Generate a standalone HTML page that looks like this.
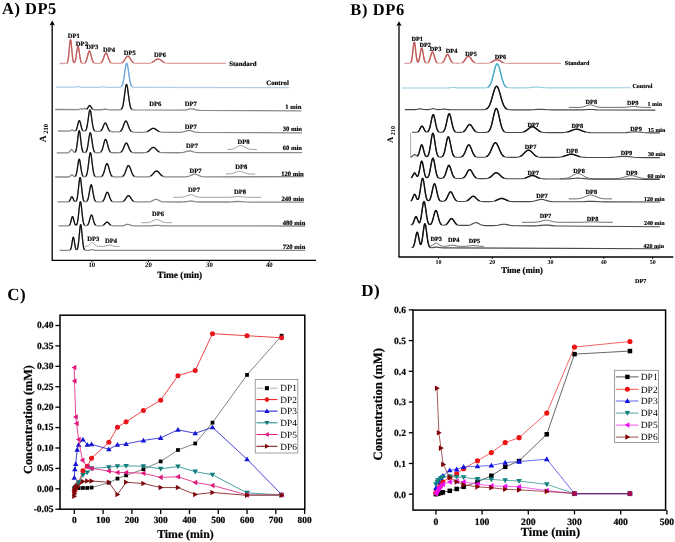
<!DOCTYPE html>
<html><head><meta charset="utf-8"><style>
html,body{margin:0;padding:0;background:#fff;}
svg{display:block;font-family:"Liberation Serif", serif;will-change:transform;filter:blur(0.3px);text-rendering:geometricPrecision;}
</style></head><body>
<svg width="675" height="542" viewBox="0 0 675 542">
<rect width="675" height="542" fill="#fff"/>
<text x="2.00" y="14.40" font-size="16.5" text-anchor="start" font-weight="bold" fill="#000" letter-spacing="0.5">A) DP5</text>
<line x1="52.2" y1="23" x2="52.2" y2="260.3" stroke="#000" stroke-width="1.3"/>
<path d="M49.5,25.4 L52.2,20.6 L54.9,25.4 L52.2,24.4 Z" fill="#000"/>
<line x1="51.6" y1="260.3" x2="316" y2="260.3" stroke="#000" stroke-width="1.3"/>
<text x="91.80" y="267.40" font-size="6.8" text-anchor="middle" font-weight="bold" fill="#000" >10</text>
<line x1="91.8" y1="260" x2="91.8" y2="262.2" stroke="#000" stroke-width="1"/>
<text x="148.50" y="267.40" font-size="6.8" text-anchor="middle" font-weight="bold" fill="#000" >20</text>
<line x1="148.5" y1="260" x2="148.5" y2="262.2" stroke="#000" stroke-width="1"/>
<text x="209.40" y="267.40" font-size="6.8" text-anchor="middle" font-weight="bold" fill="#000" >30</text>
<line x1="209.4" y1="260" x2="209.4" y2="262.2" stroke="#000" stroke-width="1"/>
<text x="269.30" y="267.40" font-size="6.8" text-anchor="middle" font-weight="bold" fill="#000" >40</text>
<line x1="269.3" y1="260" x2="269.3" y2="262.2" stroke="#000" stroke-width="1"/>
<text x="179.80" y="277.50" font-size="9.4" text-anchor="middle" font-weight="bold" fill="#000" stroke="#000" stroke-width="0.2">Time (min)</text>
<text transform="translate(45.9,142.3) rotate(-90)" font-size="9.6" font-weight="bold">A<tspan font-size="6.6" dx="1.6" dy="1.8">210</tspan></text>
<polyline points="59.60,63.50 66.09,63.44 66.59,63.31 66.84,63.16 67.09,62.91 67.34,62.51 67.59,61.91 67.84,61.02 68.34,58.15 68.84,53.65 69.84,42.80 70.09,40.95 70.34,39.89 70.59,39.74 70.84,40.53 71.09,42.16 72.33,55.37 72.83,59.30 73.08,60.64 73.33,61.59 73.58,62.23 73.83,62.60 74.08,62.75 74.33,62.71 74.58,62.49 74.83,62.09 75.33,60.67 75.58,59.61 76.08,56.76 77.33,48.15 77.58,47.04 77.83,46.41 78.08,46.30 78.33,46.74 78.58,47.68 78.83,49.03 80.08,57.74 80.33,59.14 80.82,61.23 81.07,61.93 81.57,62.81 82.07,63.22 82.82,63.41 83.82,63.37 84.57,63.13 85.07,62.78 85.32,62.51 85.82,61.74 86.32,60.58 86.82,59.00 88.07,53.97 88.57,52.24 88.81,51.61 89.06,51.18 89.31,50.98 89.56,51.02 89.81,51.29 90.31,52.47 92.06,59.27 92.81,61.38 93.31,62.28 93.81,62.84 94.56,63.25 95.31,63.40 97.80,63.45 99.55,63.36 100.55,63.09 101.30,62.60 102.05,61.68 102.80,60.20 104.55,55.26 105.05,54.07 105.54,53.29 105.79,53.09 106.04,53.05 106.29,53.15 106.54,53.39 107.04,54.25 107.54,55.50 109.04,59.79 109.54,60.93 110.04,61.80 110.54,62.43 111.29,63.00 112.04,63.27 112.79,63.38 114.78,63.43 119.28,63.39 120.78,63.23 121.78,62.92 122.27,62.65 122.77,62.28 123.52,61.51 124.27,60.47 125.77,57.96 126.52,56.86 127.02,56.35 127.27,56.17 127.77,56.02 128.27,56.14 128.52,56.29 129.02,56.78 129.77,57.86 131.51,60.75 132.26,61.72 132.76,62.21 133.26,62.60 134.01,62.98 134.76,63.20 135.76,63.34 138.01,63.40 146.75,63.38 148.74,63.29 150.24,63.09 151.49,62.72 152.49,62.26 153.49,61.63 156.23,59.60 157.23,59.12 157.98,58.98 158.73,59.06 159.73,59.46 160.48,59.93 162.98,61.80 164.22,62.51 164.97,62.80 165.72,63.02 166.72,63.19 167.72,63.29 171.96,63.36 225.90,63.30" fill="none" stroke="#dba4a4" stroke-width="1.3" stroke-linejoin="round"/>
<polyline points="67.30,62.59 67.55,62.03 67.79,61.21 68.29,58.54 68.78,54.28 69.76,43.50 70.01,41.46 70.25,40.14 70.50,39.69 70.75,40.14 70.99,41.46 71.24,43.50 72.22,54.27 72.71,58.52 73.21,61.15 73.45,61.93 73.70,62.43" fill="none" stroke="#c25a5a" stroke-width="1.20" stroke-linejoin="round" stroke-linecap="round"/>
<polyline points="74.60,62.47 74.84,62.07 75.09,61.48 75.57,59.66 76.06,56.92 77.27,48.46 77.51,47.28 77.76,46.54 78.00,46.28 78.24,46.53 78.49,47.28 78.73,48.46 79.94,56.91 80.43,59.66 80.91,61.51 81.40,62.57" fill="none" stroke="#c25a5a" stroke-width="1.20" stroke-linejoin="round" stroke-linecap="round"/>
<polyline points="85.27,62.57 85.76,61.86 86.00,61.37 86.49,60.10 86.97,58.44 88.19,53.51 88.67,51.95 88.91,51.41 89.16,51.08 89.40,50.96 89.64,51.08 89.89,51.41 90.13,51.95 90.61,53.51 91.83,58.43 92.31,60.09 92.80,61.36 93.04,61.85 93.53,62.56" fill="none" stroke="#c25a5a" stroke-width="1.20" stroke-linejoin="round" stroke-linecap="round"/>
<polyline points="101.35,62.55 102.09,61.62 102.82,60.14 104.53,55.30 105.02,54.11 105.51,53.32 105.76,53.11 106.00,53.04 106.24,53.11 106.49,53.32 106.98,54.11 107.47,55.29 109.18,60.13 109.91,61.61 110.65,62.54" fill="none" stroke="#c25a5a" stroke-width="1.20" stroke-linejoin="round" stroke-linecap="round"/>
<polyline points="122.46,62.52 123.21,61.87 123.95,60.95 126.43,56.97 127.18,56.23 127.68,56.03 128.17,56.09 128.42,56.23 128.92,56.67 129.66,57.69 131.65,60.94 132.39,61.86 133.14,62.51" fill="none" stroke="#c25a5a" stroke-width="1.20" stroke-linejoin="round" stroke-linecap="round"/>
<polyline points="152.04,62.49 153.28,61.78 156.25,59.59 157.23,59.12 157.98,58.98 158.72,59.05 159.71,59.44 160.70,60.09 162.92,61.77 164.16,62.47" fill="none" stroke="#c25a5a" stroke-width="1.20" stroke-linejoin="round" stroke-linecap="round"/>
<text x="73.70" y="38.28" font-size="6.6" text-anchor="middle" font-weight="bold" fill="#000" stroke="#000" stroke-width="0.18">DP1</text>
<text x="81.90" y="45.68" font-size="6.6" text-anchor="middle" font-weight="bold" fill="#000" stroke="#000" stroke-width="0.18">DP2</text>
<text x="92.20" y="49.38" font-size="6.6" text-anchor="middle" font-weight="bold" fill="#000" stroke="#000" stroke-width="0.18">DP3</text>
<text x="109.00" y="51.58" font-size="6.6" text-anchor="middle" font-weight="bold" fill="#000" stroke="#000" stroke-width="0.18">DP4</text>
<text x="129.70" y="54.58" font-size="6.6" text-anchor="middle" font-weight="bold" fill="#000" stroke="#000" stroke-width="0.18">DP5</text>
<text x="160.00" y="57.28" font-size="6.6" text-anchor="middle" font-weight="bold" fill="#000" stroke="#000" stroke-width="0.18">DP6</text>
<text x="229.30" y="66.20" font-size="6.8" text-anchor="start" font-weight="bold" fill="#000" stroke="#000" stroke-width="0.18">Standard</text>
<polyline points="56.00,87.20 73.24,87.22 74.73,87.08 76.73,86.52 77.48,86.45 78.23,86.56 80.23,87.12 82.23,87.25 98.96,87.28 100.21,87.21 102.21,86.86 102.96,86.80 103.71,86.86 105.71,87.21 107.46,87.30 118.70,87.33 119.95,87.26 120.69,87.07 121.19,86.80 121.44,86.58 121.94,85.92 122.44,84.85 122.94,83.23 123.44,80.98 123.94,78.07 125.19,69.30 125.69,66.22 126.19,64.12 126.44,63.55 126.69,63.35 126.94,63.52 127.19,64.06 127.69,66.11 128.19,69.16 129.69,79.49 130.19,82.11 130.69,84.07 131.19,85.42 131.44,85.91 131.93,86.58 132.18,86.80 132.68,87.09 133.43,87.28 134.43,87.35 136.43,87.37 289.30,87.70" fill="none" stroke="#b0cdea" stroke-width="1.3" stroke-linejoin="round"/>
<polyline points="121.57,86.44 122.06,85.71 122.55,84.55 123.28,81.77 124.02,77.60 125.24,68.99 125.72,66.04 126.21,64.05 126.46,63.53 126.70,63.35 126.94,63.53 127.19,64.06 127.68,66.05 128.16,69.00 129.38,77.61 130.12,81.78 130.85,84.57 131.34,85.73 131.83,86.46" fill="none" stroke="#6fa6dc" stroke-width="1.20" stroke-linejoin="round" stroke-linecap="round"/>
<text x="288.80" y="85.34" font-size="6.8" text-anchor="end" font-weight="bold" fill="#000" stroke="#000" stroke-width="0.18">Control</text>
<polyline points="55.20,109.50 78.19,109.62 79.19,109.48 80.43,108.96 80.93,108.85 81.43,108.91 82.18,109.17 82.68,109.23 83.18,109.08 83.93,108.63 84.43,108.46 84.93,108.55 85.93,109.07 86.43,109.10 86.68,109.01 87.18,108.62 87.68,107.98 88.93,106.01 89.43,105.56 89.68,105.50 89.93,105.55 90.43,105.97 91.93,108.31 92.43,108.91 93.18,109.43 93.93,109.64 95.43,109.73 101.42,109.73 102.42,109.63 104.17,109.26 104.92,109.18 105.67,109.24 107.67,109.68 109.17,109.79 118.91,109.85 119.91,109.81 120.66,109.65 121.16,109.38 121.41,109.17 121.91,108.50 122.41,107.37 122.91,105.61 123.41,103.10 123.91,99.83 125.41,88.29 125.91,85.61 126.16,84.82 126.41,84.44 126.66,84.49 126.91,84.98 127.16,85.89 127.41,87.15 127.91,90.52 129.15,100.31 129.65,103.50 130.15,105.92 130.65,107.59 130.90,108.19 131.40,109.02 131.65,109.29 132.15,109.63 132.90,109.85 135.40,109.96 182.87,110.20 184.62,110.13 185.87,109.99 187.12,109.73 190.12,108.92 190.87,108.80 191.62,108.78 192.37,108.84 193.12,108.99 195.86,109.78 197.11,110.05 198.61,110.23 200.61,110.31 301.30,110.90" fill="none" stroke="#8a8a8a" stroke-width="1.3" stroke-linejoin="round"/>
<polyline points="121.59,108.98 122.08,108.18 122.32,107.61 122.81,106.00 123.06,104.93 123.80,100.62 125.52,87.59 126.01,85.24 126.25,84.62 126.50,84.41 126.75,84.62 126.99,85.25 127.48,87.60 129.20,100.65 129.94,104.97 130.19,106.04 130.68,107.65 130.92,108.23 131.41,109.03" fill="none" stroke="#111" stroke-width="1.20" stroke-linejoin="round" stroke-linecap="round"/>
<polyline points="87.07,108.74 87.55,108.17 88.98,105.95 89.46,105.55 89.70,105.50 89.94,105.55 90.42,105.96 91.85,108.21 92.33,108.81" fill="none" stroke="#111" stroke-width="1.20" stroke-linejoin="round" stroke-linecap="round"/>
<text x="155.20" y="106.38" font-size="6.6" text-anchor="middle" font-weight="bold" fill="#000" stroke="#000" stroke-width="0.18">DP6</text>
<text x="190.70" y="106.38" font-size="6.6" text-anchor="middle" font-weight="bold" fill="#000" stroke="#000" stroke-width="0.18">DP7</text>
<text x="301.30" y="109.28" font-size="6.6" text-anchor="end" font-weight="bold" fill="#000" stroke="#000" stroke-width="0.18">1 min</text>
<polyline points="58.10,131.00 69.10,131.09 70.10,130.89 71.59,130.10 72.09,129.97 72.34,129.98 72.84,130.14 73.84,130.70 74.34,130.90 74.84,130.96 75.34,130.84 75.84,130.45 76.09,130.12 76.59,129.12 77.09,127.60 78.59,121.67 78.84,121.04 79.09,120.65 79.34,120.56 79.59,120.76 79.84,121.23 80.09,121.95 81.59,127.95 81.84,128.73 82.34,129.92 82.84,130.63 83.09,130.85 83.59,131.11 84.09,131.19 84.59,131.16 85.09,130.98 85.34,130.82 85.84,130.26 86.09,129.81 86.59,128.47 86.84,127.53 87.59,123.49 89.09,112.76 89.59,110.50 89.84,109.98 90.09,109.91 90.34,110.30 90.59,111.13 90.84,112.34 92.59,124.65 92.84,126.07 93.34,128.28 93.84,129.74 94.34,130.60 94.59,130.87 95.08,131.20 95.83,131.39 97.83,131.47 99.33,131.39 100.33,131.11 101.08,130.59 101.83,129.62 102.33,128.69 103.83,125.01 104.33,123.94 104.83,123.23 105.08,123.05 105.33,123.01 105.58,123.10 105.83,123.31 106.33,124.10 108.08,128.39 108.83,129.86 109.33,130.56 110.08,131.21 110.58,131.45 111.08,131.59 112.83,131.75 118.08,131.83 119.08,131.75 119.82,131.56 120.32,131.32 120.82,130.95 121.32,130.41 121.82,129.65 122.57,128.09 124.32,123.29 124.82,122.14 125.32,121.35 125.57,121.12 125.82,121.02 126.07,121.05 126.32,121.21 126.57,121.49 127.07,122.38 127.57,123.60 129.32,128.45 129.82,129.52 130.32,130.37 131.07,131.24 131.82,131.74 132.57,131.99 133.82,132.15 139.82,132.30 142.32,132.29 144.31,132.22 145.81,132.01 147.06,131.65 148.06,131.19 149.06,130.57 151.06,129.16 151.81,128.72 152.56,128.44 153.31,128.34 154.06,128.45 155.06,128.88 158.06,130.94 158.81,131.37 159.56,131.70 160.31,131.94 161.31,132.16 163.81,132.35 176.80,132.41 180.55,132.30 182.80,131.97 184.05,131.64 187.05,130.68 188.05,130.49 188.80,130.45 189.55,130.50 190.55,130.69 193.79,131.74 195.29,132.11 197.04,132.35 199.29,132.46 302.00,132.80" fill="none" stroke="#8a8a8a" stroke-width="1.3" stroke-linejoin="round"/>
<polyline points="75.96,130.30 76.46,129.44 76.95,128.08 78.19,123.11 78.68,121.42 78.93,120.87 79.18,120.59 79.42,120.59 79.67,120.88 80.17,122.20 81.65,128.14 82.14,129.51 82.64,130.39" fill="none" stroke="#111" stroke-width="1.20" stroke-linejoin="round" stroke-linecap="round"/>
<polyline points="85.72,130.43 86.21,129.55 86.45,128.90 86.94,127.09 87.68,122.91 89.14,112.43 89.39,111.22 89.63,110.37 89.88,109.93 90.12,109.94 90.37,110.38 90.61,111.24 90.86,112.45 92.32,122.97 92.81,125.95 93.06,127.16 93.55,128.99 93.79,129.64 94.28,130.53" fill="none" stroke="#111" stroke-width="1.20" stroke-linejoin="round" stroke-linecap="round"/>
<polyline points="101.05,130.62 101.80,129.68 102.30,128.75 104.30,124.00 104.80,123.26 105.05,123.07 105.30,123.01 105.55,123.08 105.80,123.28 106.30,124.04 108.30,128.87 108.80,129.82 109.55,130.79" fill="none" stroke="#111" stroke-width="1.20" stroke-linejoin="round" stroke-linecap="round"/>
<polyline points="120.75,131.02 121.49,130.18 122.22,128.88 122.96,127.10 124.43,123.02 124.92,121.95 125.41,121.26 125.65,121.08 125.90,121.02 126.15,121.09 126.39,121.27 126.88,121.99 127.37,123.08 128.84,127.22 129.58,129.02 130.31,130.36 131.05,131.22" fill="none" stroke="#111" stroke-width="1.20" stroke-linejoin="round" stroke-linecap="round"/>
<polyline points="147.60,131.42 148.84,130.72 151.57,128.85 152.56,128.44 153.30,128.34 154.04,128.44 155.03,128.86 157.76,130.75 159.00,131.46" fill="none" stroke="#111" stroke-width="1.20" stroke-linejoin="round" stroke-linecap="round"/>
<text x="190.70" y="128.68" font-size="6.6" text-anchor="middle" font-weight="bold" fill="#000" stroke="#000" stroke-width="0.18">DP7</text>
<text x="302.00" y="131.38" font-size="6.6" text-anchor="end" font-weight="bold" fill="#000" stroke="#000" stroke-width="0.18">30 min</text>
<polyline points="56.70,152.80 66.69,152.79 67.69,152.75 68.19,152.67 68.69,152.48 69.19,152.11 69.69,151.54 70.69,150.08 71.19,149.59 71.44,149.50 71.69,149.53 72.19,149.92 73.44,151.69 73.94,152.18 74.44,152.39 74.69,152.39 74.94,152.30 75.18,152.12 75.43,151.81 75.68,151.35 75.93,150.71 76.43,148.74 77.18,143.80 78.43,133.32 78.68,131.88 78.93,130.94 79.18,130.59 79.43,130.85 79.68,131.70 79.93,133.08 81.43,145.44 81.93,148.55 82.18,149.70 82.43,150.60 82.93,151.78 83.43,152.37 83.68,152.52 84.18,152.67 84.68,152.68 85.18,152.57 85.68,152.29 85.93,152.06 86.43,151.30 86.93,150.00 87.42,148.00 87.92,145.25 89.42,135.28 89.67,134.10 89.92,133.27 90.17,132.84 90.42,132.84 90.67,133.26 90.92,134.08 91.17,135.25 92.67,145.22 93.17,147.98 93.67,149.98 94.17,151.28 94.67,152.05 94.92,152.29 95.42,152.57 96.17,152.73 98.42,152.76 99.66,152.62 100.41,152.32 100.91,151.92 101.16,151.64 101.66,150.85 101.91,150.33 102.41,149.02 102.91,147.35 104.16,142.44 104.66,140.78 105.16,139.70 105.41,139.44 105.66,139.39 105.91,139.54 106.16,139.89 106.66,141.13 108.41,147.78 108.91,149.36 109.41,150.59 109.91,151.46 110.16,151.78 110.66,152.23 111.41,152.58 112.40,152.74 116.40,152.77 118.90,152.72 120.15,152.50 120.90,152.16 121.40,151.77 121.90,151.22 122.65,150.03 123.40,148.40 124.64,145.29 125.39,143.80 125.89,143.22 126.14,143.09 126.39,143.08 126.64,143.18 126.89,143.39 127.39,144.11 127.89,145.14 129.64,149.39 130.14,150.36 130.64,151.13 131.14,151.71 131.89,152.26 132.64,152.55 133.89,152.73 143.38,152.74 145.13,152.63 146.38,152.39 147.63,151.86 148.63,151.16 149.37,150.47 151.12,148.61 151.87,147.94 152.62,147.50 153.37,147.36 154.12,147.56 154.87,148.05 155.62,148.75 157.62,150.84 158.87,151.79 159.62,152.17 160.62,152.48 161.61,152.64 162.86,152.72 176.85,152.75 180.85,152.65 182.10,152.53 183.35,152.32 187.59,151.15 188.59,150.98 189.34,150.95 190.09,150.99 191.09,151.17 194.34,152.11 195.84,152.43 197.59,152.63 199.83,152.72 302.00,152.70" fill="none" stroke="#8a8a8a" stroke-width="1.3" stroke-linejoin="round"/>
<polyline points="75.40,151.86 75.89,150.83 76.14,150.03 76.63,147.69 77.12,144.32 78.10,135.85 78.59,132.37 78.83,131.25 79.08,130.66 79.32,130.66 79.57,131.25 79.81,132.37 80.06,133.94 81.28,144.32 81.77,147.69 82.26,150.03 82.51,150.84 83.00,151.89" fill="none" stroke="#111" stroke-width="1.20" stroke-linejoin="round" stroke-linecap="round"/>
<polyline points="86.07,151.89 86.56,151.00 86.81,150.35 87.31,148.52 87.81,145.95 89.05,137.49 89.55,134.63 89.80,133.63 90.05,133.00 90.30,132.79 90.55,133.00 90.80,133.63 91.05,134.63 91.55,137.49 92.79,145.95 93.29,148.52 93.79,150.34 94.04,151.00 94.53,151.88" fill="none" stroke="#111" stroke-width="1.20" stroke-linejoin="round" stroke-linecap="round"/>
<polyline points="100.95,151.88 101.44,151.24 101.69,150.81 102.42,149.00 102.91,147.36 104.13,142.54 104.62,140.89 105.11,139.78 105.36,139.48 105.60,139.38 105.84,139.48 106.09,139.77 106.58,140.89 107.07,142.54 108.29,147.36 108.78,148.99 109.51,150.80 109.76,151.24 110.25,151.88" fill="none" stroke="#111" stroke-width="1.20" stroke-linejoin="round" stroke-linecap="round"/>
<polyline points="121.28,151.87 122.02,151.06 122.75,149.82 123.49,148.18 124.71,145.13 125.20,144.12 125.69,143.41 125.93,143.19 126.18,143.09 126.42,143.09 126.67,143.19 126.91,143.41 127.40,144.12 127.89,145.13 129.11,148.18 129.85,149.82 130.58,151.05 131.32,151.87" fill="none" stroke="#111" stroke-width="1.20" stroke-linejoin="round" stroke-linecap="round"/>
<polyline points="147.62,151.86 148.36,151.37 149.10,150.73 151.08,148.66 151.82,147.98 152.56,147.52 153.30,147.36 154.04,147.52 154.78,147.98 155.52,148.66 157.50,150.73 158.24,151.37 158.98,151.86" fill="none" stroke="#111" stroke-width="1.20" stroke-linejoin="round" stroke-linecap="round"/>
<polyline points="227.50,149.48 230.73,149.33 231.97,149.15 232.96,148.91 233.96,148.57 234.95,148.13 237.93,146.41 238.92,145.92 239.92,145.60 240.91,145.50 241.65,145.59 242.65,145.90 243.64,146.39 246.87,148.23 247.86,148.66 249.10,149.04 250.34,149.27 251.83,149.41 256.80,149.50" fill="none" stroke="#8a8a8a" stroke-width="0.8" stroke-linejoin="round"/>
<text x="192.00" y="148.48" font-size="6.6" text-anchor="middle" font-weight="bold" fill="#000" stroke="#000" stroke-width="0.18">DP7</text>
<text x="243.50" y="144.18" font-size="6.6" text-anchor="middle" font-weight="bold" fill="#000" stroke="#000" stroke-width="0.18">DP8</text>
<text x="302.00" y="150.28" font-size="6.6" text-anchor="end" font-weight="bold" fill="#000" stroke="#000" stroke-width="0.18">60 min</text>
<polyline points="55.20,177.00 66.94,176.98 68.44,176.92 69.19,176.75 69.69,176.49 71.18,175.18 71.68,174.91 71.93,174.88 72.43,175.05 73.68,176.14 74.18,176.46 74.68,176.57 75.18,176.40 75.43,176.17 75.68,175.81 75.93,175.31 76.43,173.74 77.18,169.80 78.43,161.39 78.68,160.22 78.93,159.47 79.18,159.17 79.43,159.37 79.68,160.04 79.93,161.13 81.42,171.04 81.92,173.54 82.42,175.20 82.92,176.15 83.17,176.43 83.67,176.75 84.17,176.86 84.67,176.86 85.17,176.74 85.67,176.46 86.17,175.86 86.67,174.78 87.17,172.97 87.42,171.75 88.17,166.71 89.42,156.41 89.92,153.63 90.16,152.89 90.41,152.66 90.66,152.95 90.91,153.74 91.16,154.99 91.66,158.52 92.91,168.80 93.66,173.09 94.16,174.85 94.66,175.90 94.91,176.23 95.41,176.64 95.91,176.82 96.41,176.90 99.16,176.93 100.65,176.81 101.15,176.67 101.65,176.42 102.40,175.72 103.15,174.44 103.65,173.18 104.15,171.60 105.40,166.92 105.90,165.26 106.40,164.08 106.65,163.72 106.90,163.55 107.15,163.57 107.40,163.77 107.90,164.70 108.40,166.19 110.14,172.57 110.64,173.96 111.14,175.02 111.64,175.77 112.39,176.44 113.14,176.74 114.14,176.89 118.64,176.92 120.88,176.85 121.63,176.73 122.13,176.58 122.63,176.34 123.13,175.98 123.88,175.13 124.63,173.81 125.38,172.02 126.63,168.50 127.38,166.69 127.88,165.89 128.13,165.65 128.38,165.53 128.63,165.53 128.88,165.65 129.13,165.89 129.63,166.70 130.37,168.51 131.87,172.66 132.62,174.30 133.12,175.12 133.62,175.74 134.37,176.33 135.12,176.65 136.37,176.85 138.62,176.90 146.36,176.87 148.11,176.77 149.36,176.54 150.10,176.28 150.60,176.03 151.60,175.33 152.35,174.61 154.35,172.32 155.10,171.59 155.85,171.12 156.60,170.98 157.35,171.21 158.10,171.75 160.84,174.80 161.59,175.48 162.09,175.83 162.84,176.24 163.84,176.57 164.84,176.74 166.09,176.83 182.07,176.84 184.57,176.80 186.07,176.71 187.32,176.55 188.57,176.26 189.81,175.82 192.06,174.80 193.06,174.41 194.06,174.18 194.81,174.13 195.56,174.21 196.56,174.48 199.80,175.89 201.30,176.37 203.05,176.66 205.30,176.79 303.70,176.70" fill="none" stroke="#8a8a8a" stroke-width="1.3" stroke-linejoin="round"/>
<polyline points="75.54,176.03 76.02,175.07 76.51,173.39 77.00,170.89 78.47,161.17 78.71,160.09 78.96,159.41 79.20,159.17 79.44,159.41 79.69,160.09 79.93,161.17 81.40,170.89 81.89,173.39 82.38,175.08 82.86,176.07" fill="none" stroke="#111" stroke-width="1.20" stroke-linejoin="round" stroke-linecap="round"/>
<polyline points="86.04,176.06 86.53,175.13 86.78,174.43 87.28,172.44 88.03,167.76 89.53,155.66 89.78,154.24 90.03,153.24 90.28,152.72 90.52,152.72 90.77,153.24 91.02,154.24 91.27,155.66 92.77,167.75 93.27,171.10 93.52,172.43 94.02,174.42 94.27,175.12 94.76,176.05" fill="none" stroke="#111" stroke-width="1.20" stroke-linejoin="round" stroke-linecap="round"/>
<polyline points="102.12,176.04 102.85,175.04 103.58,173.37 104.07,171.87 105.54,166.43 106.02,164.91 106.51,163.90 106.76,163.63 107.00,163.54 107.24,163.63 107.49,163.89 107.98,164.91 108.46,166.43 109.93,171.87 110.42,173.37 111.15,175.03 111.88,176.03" fill="none" stroke="#111" stroke-width="1.20" stroke-linejoin="round" stroke-linecap="round"/>
<polyline points="123.09,176.02 123.58,175.52 124.08,174.83 124.81,173.41 125.55,171.56 126.78,168.10 127.52,166.43 128.01,165.75 128.25,165.57 128.50,165.51 128.75,165.57 128.99,165.75 129.48,166.43 130.22,168.09 131.45,171.55 132.19,173.41 132.92,174.82 133.42,175.51 133.91,176.00" fill="none" stroke="#111" stroke-width="1.20" stroke-linejoin="round" stroke-linecap="round"/>
<polyline points="150.68,175.98 151.42,175.47 152.17,174.80 154.89,171.77 155.63,171.22 156.38,170.98 157.12,171.10 157.86,171.55 158.60,172.26 160.83,174.79 161.58,175.46 162.32,175.97" fill="none" stroke="#111" stroke-width="1.20" stroke-linejoin="round" stroke-linecap="round"/>
<polyline points="225.90,173.99 229.38,173.89 231.61,173.61 233.60,173.09 237.57,171.60 238.56,171.37 239.56,171.30 240.55,171.39 241.54,171.63 245.52,173.13 246.51,173.42 247.75,173.68 248.99,173.84 250.48,173.94 255.20,174.00" fill="none" stroke="#8a8a8a" stroke-width="0.8" stroke-linejoin="round"/>
<text x="195.50" y="172.98" font-size="6.6" text-anchor="middle" font-weight="bold" fill="#000" stroke="#000" stroke-width="0.18">DP7</text>
<text x="241.30" y="168.98" font-size="6.6" text-anchor="middle" font-weight="bold" fill="#000" stroke="#000" stroke-width="0.18">DP8</text>
<text x="303.70" y="176.18" font-size="6.6" text-anchor="end" font-weight="bold" fill="#000" stroke="#000" stroke-width="0.18">120 min</text>
<polyline points="57.40,201.90 67.14,201.90 68.14,201.83 68.64,201.68 69.14,201.36 69.64,200.76 70.14,199.83 71.14,197.52 71.39,197.09 71.64,196.81 71.89,196.71 72.14,196.80 72.39,197.07 72.64,197.49 73.64,199.79 74.14,200.73 74.39,201.07 74.89,201.49 75.39,201.60 75.64,201.54 75.89,201.39 76.14,201.14 76.64,200.20 76.89,199.44 77.39,197.14 77.89,193.66 79.39,180.04 79.64,178.56 79.89,177.67 80.14,177.43 80.39,177.86 80.64,178.93 80.89,180.56 82.13,192.16 82.63,196.04 82.88,197.55 83.38,199.69 83.88,200.90 84.38,201.50 84.63,201.66 85.13,201.81 85.63,201.82 86.13,201.71 86.63,201.46 86.88,201.24 87.38,200.55 87.88,199.38 88.13,198.57 88.63,196.47 90.38,186.70 90.63,185.76 90.88,185.13 91.13,184.84 91.38,184.92 91.63,185.36 92.13,187.20 93.63,195.76 94.13,198.05 94.63,199.69 95.13,200.74 95.63,201.35 95.88,201.54 96.38,201.77 97.13,201.89 99.62,201.93 101.12,201.85 102.12,201.60 102.87,201.10 103.62,200.15 104.12,199.19 104.62,197.98 105.87,194.43 106.37,193.23 106.87,192.46 107.12,192.28 107.37,192.25 107.62,192.36 107.87,192.63 108.37,193.53 110.12,198.35 110.62,199.49 111.12,200.37 111.62,201.00 112.37,201.55 113.12,201.80 114.12,201.92 120.86,201.91 122.11,201.77 123.11,201.45 123.61,201.16 124.11,200.77 124.86,199.96 126.86,196.97 127.36,196.33 127.86,195.88 128.11,195.74 128.61,195.66 129.11,195.86 129.61,196.29 130.36,197.29 131.85,199.59 132.60,200.50 133.10,200.96 133.60,201.31 134.35,201.64 135.10,201.82 136.35,201.93 145.85,201.96 147.60,201.92 148.84,201.82 150.09,201.60 151.09,201.29 152.09,200.86 154.09,199.85 154.84,199.57 155.59,199.40 156.09,199.38 156.84,199.48 157.59,199.72 160.34,201.07 161.59,201.53 163.34,201.86 165.58,201.97 179.83,202.00 183.32,201.95 185.57,201.77 189.32,201.11 190.82,201.01 192.32,201.14 195.07,201.66 196.32,201.84 197.81,201.95 200.06,202.01 228.55,202.01 231.54,201.92 236.79,201.51 238.79,201.45 240.79,201.53 245.79,201.93 249.78,202.04 304.00,202.10" fill="none" stroke="#8a8a8a" stroke-width="1.3" stroke-linejoin="round"/>
<polyline points="69.47,201.01 69.95,200.22 71.17,197.47 71.41,197.06 71.66,196.80 71.90,196.71 72.14,196.80 72.39,197.06 72.63,197.47 73.85,200.22 74.33,201.00" fill="none" stroke="#111" stroke-width="1.20" stroke-linejoin="round" stroke-linecap="round"/>
<polyline points="76.24,201.00 76.74,199.91 76.99,199.06 77.49,196.54 77.99,192.85 78.98,183.37 79.48,179.44 79.73,178.16 79.98,177.50 80.22,177.50 80.47,178.17 80.72,179.44 80.97,181.22 82.21,192.85 82.71,196.54 83.21,199.06 83.46,199.92 83.96,201.02" fill="none" stroke="#111" stroke-width="1.20" stroke-linejoin="round" stroke-linecap="round"/>
<polyline points="87.07,201.02 87.56,200.20 87.80,199.60 88.29,197.98 89.02,194.43 90.23,187.40 90.71,185.51 90.96,185.00 91.20,184.83 91.44,185.00 91.69,185.51 92.17,187.40 93.38,194.44 94.11,197.99 94.60,199.61 94.84,200.20 95.33,201.03" fill="none" stroke="#111" stroke-width="1.20" stroke-linejoin="round" stroke-linecap="round"/>
<polyline points="102.94,201.04 103.69,200.04 104.18,199.05 104.68,197.82 105.93,194.27 106.43,193.12 106.93,192.41 107.18,192.26 107.42,192.26 107.67,192.41 108.17,193.12 108.67,194.27 109.92,197.82 110.42,199.06 110.91,200.05 111.66,201.04" fill="none" stroke="#111" stroke-width="1.20" stroke-linejoin="round" stroke-linecap="round"/>
<polyline points="123.77,201.05 124.26,200.63 125.01,199.76 127.25,196.45 127.75,195.96 128.00,195.79 128.50,195.66 129.00,195.79 129.25,195.96 129.75,196.45 131.99,199.77 132.74,200.63 133.23,201.06" fill="none" stroke="#111" stroke-width="1.20" stroke-linejoin="round" stroke-linecap="round"/>
<polyline points="173.30,197.30 180.28,197.27 181.78,197.20 183.02,197.07 184.27,196.82 185.27,196.52 189.01,194.99 190.00,194.75 190.75,194.70 191.50,194.77 192.50,195.02 195.49,196.28 196.98,196.78 198.73,197.11 200.72,197.26 205.71,197.30 228.64,197.27 231.63,197.13 236.62,196.60 238.61,196.50 240.36,196.57 245.10,197.08 247.84,197.24 261.30,197.30" fill="none" stroke="#8a8a8a" stroke-width="0.8" stroke-linejoin="round"/>
<text x="194.10" y="192.08" font-size="6.6" text-anchor="middle" font-weight="bold" fill="#000" stroke="#000" stroke-width="0.18">DP7</text>
<text x="240.00" y="193.68" font-size="6.6" text-anchor="middle" font-weight="bold" fill="#000" stroke="#000" stroke-width="0.18">DP8</text>
<text x="304.00" y="201.38" font-size="6.6" text-anchor="end" font-weight="bold" fill="#000" stroke="#000" stroke-width="0.18">240 min</text>
<polyline points="58.60,225.80 67.60,225.80 68.60,225.71 69.10,225.51 69.60,225.04 70.10,224.12 70.60,222.62 71.85,217.61 72.10,216.95 72.35,216.58 72.60,216.54 72.85,216.84 73.10,217.44 74.35,222.42 74.85,223.96 75.10,224.50 75.35,224.88 75.60,225.13 75.85,225.24 76.10,225.22 76.35,225.07 76.60,224.78 76.85,224.32 77.10,223.67 77.60,221.61 77.85,220.16 78.35,216.38 79.60,204.94 79.85,203.31 80.10,202.21 80.35,201.73 80.60,201.92 80.85,202.76 81.10,204.17 81.60,208.27 82.60,217.56 83.10,221.02 83.34,222.31 83.84,224.10 84.34,225.06 84.84,225.52 85.09,225.63 85.59,225.74 86.34,225.70 87.09,225.45 87.59,225.05 88.09,224.37 88.59,223.32 89.09,221.86 90.59,216.46 91.09,215.33 91.34,215.07 91.59,215.04 91.84,215.24 92.09,215.67 92.34,216.28 94.09,222.45 94.84,224.27 95.34,224.99 95.84,225.42 96.59,225.71 97.34,225.80 100.84,225.80 101.84,225.70 102.59,225.51 103.34,225.14 103.84,224.77 106.09,222.50 106.59,222.22 107.09,222.14 107.59,222.30 108.09,222.65 109.84,224.49 110.34,224.92 110.84,225.26 111.34,225.49 112.09,225.70 113.84,225.83 120.09,225.84 122.34,225.74 123.34,225.59 124.09,225.40 126.84,224.47 127.84,224.36 128.34,224.39 129.09,224.56 131.34,225.35 132.34,225.61 133.83,225.80 135.83,225.86 149.58,225.85 151.58,225.77 155.33,225.43 156.83,225.38 158.33,225.44 162.58,225.81 166.33,225.88 305.30,226.00" fill="none" stroke="#8a8a8a" stroke-width="1.3" stroke-linejoin="round"/>
<polyline points="69.69,224.91 70.18,223.92 70.42,223.21 71.89,217.48 72.13,216.87 72.38,216.55 72.62,216.55 72.87,216.87 73.11,217.48 74.58,223.20 74.82,223.90 75.31,224.84" fill="none" stroke="#111" stroke-width="1.20" stroke-linejoin="round" stroke-linecap="round"/>
<polyline points="76.55,224.84 76.80,224.42 77.05,223.80 77.30,222.96 77.79,220.48 78.29,216.85 79.28,207.55 79.78,203.69 80.03,202.45 80.28,201.80 80.52,201.80 80.77,202.45 81.02,203.69 81.27,205.44 82.51,216.85 83.01,220.49 83.50,222.98 83.75,223.83 84.25,224.92" fill="none" stroke="#111" stroke-width="1.20" stroke-linejoin="round" stroke-linecap="round"/>
<polyline points="87.71,224.92 88.20,224.18 88.44,223.68 88.93,222.37 90.64,216.31 91.13,215.27 91.38,215.05 91.62,215.05 91.87,215.28 92.36,216.31 93.82,221.58 94.31,223.08 94.80,224.19 95.29,224.93" fill="none" stroke="#111" stroke-width="1.20" stroke-linejoin="round" stroke-linecap="round"/>
<polyline points="103.64,224.94 104.14,224.51 105.63,222.91 106.13,222.47 106.63,222.20 107.12,222.15 107.62,222.31 108.12,222.68 109.62,224.27 110.36,224.94" fill="none" stroke="#111" stroke-width="1.20" stroke-linejoin="round" stroke-linecap="round"/>
<polyline points="141.30,222.70 146.54,222.66 148.04,222.56 149.29,222.38 150.53,222.06 151.53,221.67 154.28,220.23 155.28,219.79 156.03,219.58 156.77,219.50 157.52,219.57 158.52,219.86 162.02,221.65 163.01,222.04 164.26,222.37 165.51,222.56 166.76,222.64 172.00,222.70" fill="none" stroke="#8a8a8a" stroke-width="0.8" stroke-linejoin="round"/>
<text x="158.10" y="216.08" font-size="6.6" text-anchor="middle" font-weight="bold" fill="#000" stroke="#000" stroke-width="0.18">DP6</text>
<text x="305.30" y="224.88" font-size="6.6" text-anchor="end" font-weight="bold" fill="#000" stroke="#000" stroke-width="0.18">480 min</text>
<polyline points="59.60,250.40 68.85,250.39 69.60,250.29 70.10,250.02 70.35,249.76 70.60,249.35 71.10,247.95 71.60,245.57 72.60,239.28 72.85,238.11 73.10,237.39 73.35,237.21 73.60,237.60 73.85,238.50 75.10,246.09 75.60,248.25 75.85,248.95 76.10,249.41 76.35,249.67 76.60,249.75 76.85,249.65 77.10,249.37 77.35,248.89 77.60,248.17 77.85,247.16 78.35,244.12 78.85,239.66 79.85,228.98 80.10,226.89 80.35,225.41 80.60,224.67 80.85,224.74 81.10,225.61 81.35,227.20 82.85,242.42 83.10,244.43 83.60,247.36 83.85,248.33 84.10,249.04 84.34,249.53 84.84,250.08 85.09,250.21 85.59,250.34 87.34,250.40 89.09,250.31 89.84,250.17 91.34,249.72 92.09,249.60 92.84,249.67 95.09,250.28 96.09,250.37 97.59,250.40 305.30,250.40" fill="none" stroke="#8a8a8a" stroke-width="1.3" stroke-linejoin="round"/>
<polyline points="70.52,249.50 71.00,248.29 71.24,247.36 71.73,244.80 72.70,238.77 72.94,237.79 73.18,237.27 73.42,237.27 73.66,237.79 73.90,238.77 75.11,246.18 75.60,248.25 75.84,248.93 76.08,249.39" fill="none" stroke="#111" stroke-width="1.20" stroke-linejoin="round" stroke-linecap="round"/>
<polyline points="77.07,249.41 77.31,248.96 77.56,248.30 77.80,247.38 78.28,244.59 78.77,240.47 79.97,227.84 80.22,226.09 80.46,224.98 80.70,224.60 80.94,224.98 81.18,226.09 81.43,227.84 82.63,240.47 83.12,244.59 83.60,247.39 83.84,248.33 84.33,249.50" fill="none" stroke="#111" stroke-width="1.20" stroke-linejoin="round" stroke-linecap="round"/>
<polyline points="84.80,246.40 86.04,246.37 87.04,246.26 87.78,246.05 88.28,245.81 88.78,245.48 89.27,245.03 90.77,243.31 91.26,242.82 91.76,242.50 92.26,242.40 92.75,242.55 93.25,242.92 94.99,244.89 95.74,245.56 96.48,246.00 97.48,246.28 98.47,246.37 99.96,246.40 102.20,246.38 103.69,246.30 105.43,246.01 108.17,245.23 109.41,245.10 110.65,245.28 112.89,245.94 114.38,246.24 116.12,246.37 119.60,246.40" fill="none" stroke="#8a8a8a" stroke-width="0.8" stroke-linejoin="round"/>
<text x="93.30" y="240.88" font-size="6.6" text-anchor="middle" font-weight="bold" fill="#000" stroke="#000" stroke-width="0.18">DP3</text>
<text x="111.00" y="242.78" font-size="6.6" text-anchor="middle" font-weight="bold" fill="#000" stroke="#000" stroke-width="0.18">DP4</text>
<text x="305.30" y="248.88" font-size="6.6" text-anchor="end" font-weight="bold" fill="#000" stroke="#000" stroke-width="0.18">720 min</text>
<text x="350.30" y="14.60" font-size="16.5" text-anchor="start" font-weight="bold" fill="#000" letter-spacing="0.6">B) DP6</text>
<line x1="399" y1="23.5" x2="399" y2="257" stroke="#000" stroke-width="1.3"/>
<path d="M396.3,26 L399,21.2 L401.7,26 L399,25 Z" fill="#000"/>
<line x1="398.4" y1="257" x2="673.3" y2="257" stroke="#000" stroke-width="1.3"/>
<text x="438.50" y="264.30" font-size="6.0" text-anchor="middle" font-weight="bold" fill="#000" >10</text>
<line x1="438.5" y1="257" x2="438.5" y2="258.8" stroke="#000" stroke-width="1"/>
<text x="492.30" y="264.30" font-size="6.0" text-anchor="middle" font-weight="bold" fill="#000" >20</text>
<line x1="492.3" y1="257" x2="492.3" y2="258.8" stroke="#000" stroke-width="1"/>
<text x="550.50" y="264.30" font-size="6.0" text-anchor="middle" font-weight="bold" fill="#000" >30</text>
<line x1="550.5" y1="257" x2="550.5" y2="258.8" stroke="#000" stroke-width="1"/>
<text x="603.80" y="264.30" font-size="6.0" text-anchor="middle" font-weight="bold" fill="#000" >40</text>
<line x1="603.8" y1="257" x2="603.8" y2="258.8" stroke="#000" stroke-width="1"/>
<text x="652.70" y="264.30" font-size="6.0" text-anchor="middle" font-weight="bold" fill="#000" >50</text>
<line x1="652.7" y1="257" x2="652.7" y2="258.8" stroke="#000" stroke-width="1"/>
<text x="522.10" y="273.00" font-size="8.7" text-anchor="middle" font-weight="bold" fill="#000" stroke="#000" stroke-width="0.2">Time (min)</text>
<text transform="translate(393,142.9) rotate(-90)" font-size="8.6" font-weight="bold">A<tspan font-size="6.2" dx="1.4" dy="1.6">210</tspan></text>
<text x="640.60" y="282.60" font-size="6.2" text-anchor="middle" font-weight="bold" fill="#000" stroke="#000" stroke-width="0.15">DP7</text>
<polyline points="404.40,63.30 408.89,63.30 409.89,63.20 410.39,62.98 410.64,62.77 410.89,62.43 411.14,61.94 411.64,60.27 412.14,57.43 413.64,44.53 413.88,43.09 414.13,42.26 414.38,42.15 414.63,42.74 414.88,44.00 415.13,45.78 416.13,54.84 416.63,58.48 417.13,60.80 417.38,61.49 417.63,61.91 417.88,62.08 418.13,62.02 418.38,61.76 418.63,61.30 419.13,59.74 419.63,57.38 420.87,50.08 421.12,49.01 421.37,48.27 421.62,47.93 421.87,48.01 422.12,48.51 422.37,49.38 422.87,51.95 423.87,57.90 424.37,60.15 424.62,60.99 424.87,61.65 425.37,62.53 425.87,62.96 426.36,63.13 427.11,63.09 427.86,62.73 428.36,62.25 428.86,61.49 429.36,60.41 429.86,58.98 431.11,54.60 431.61,53.11 432.11,52.16 432.36,51.95 432.60,51.94 432.85,52.11 433.10,52.48 433.60,53.69 435.10,58.85 435.60,60.31 436.10,61.43 436.60,62.21 437.10,62.71 437.85,63.10 438.60,63.25 440.09,63.29 441.34,63.14 442.09,62.89 442.84,62.37 443.59,61.47 444.09,60.62 444.59,59.58 446.08,56.01 446.58,55.08 447.08,54.49 447.33,54.35 447.58,54.33 447.83,54.43 448.08,54.64 448.58,55.35 449.08,56.37 450.58,59.94 451.08,60.93 451.57,61.71 452.07,62.29 452.82,62.85 453.57,63.13 454.57,63.28 457.32,63.33 459.81,63.27 461.31,63.04 462.31,62.66 463.31,61.96 464.05,61.18 464.80,60.18 466.30,57.90 467.05,56.93 467.80,56.30 468.30,56.15 468.55,56.15 469.05,56.33 469.80,56.98 470.54,57.97 472.29,60.60 473.04,61.52 473.54,62.01 474.29,62.56 475.04,62.91 475.79,63.12 476.78,63.26 479.03,63.34 485.27,63.33 487.27,63.25 488.77,63.07 490.01,62.78 491.26,62.30 492.26,61.79 494.26,60.61 495.25,60.11 496.25,59.82 497.00,59.76 497.75,59.86 498.75,60.21 501.99,62.04 503.49,62.69 504.99,63.08 506.99,63.29 511.23,63.37 560.90,63.40" fill="none" stroke="#dba4a4" stroke-width="1.15" stroke-linejoin="round"/>
<polyline points="410.91,62.40 411.39,61.22 411.88,59.08 412.36,55.75 413.57,44.97 413.82,43.43 414.06,42.45 414.30,42.11 414.54,42.45 414.78,43.43 415.03,44.97 416.24,55.73 416.72,59.02 417.21,61.05 417.45,61.64 417.69,61.97" fill="none" stroke="#c25a5a" stroke-width="1.35" stroke-linejoin="round" stroke-linecap="round"/>
<polyline points="418.13,62.03 418.37,61.77 418.62,61.32 418.86,60.66 419.36,58.74 420.59,51.60 421.08,49.16 421.33,48.37 421.58,47.96 421.82,47.96 422.07,48.37 422.56,50.26 423.80,57.51 424.29,59.84 424.78,61.44 425.27,62.41" fill="none" stroke="#c25a5a" stroke-width="1.35" stroke-linejoin="round" stroke-linecap="round"/>
<polyline points="428.22,62.41 428.71,61.76 428.95,61.32 429.44,60.19 429.93,58.75 431.15,54.45 431.64,53.02 432.13,52.13 432.38,51.94 432.62,51.94 432.87,52.13 433.11,52.49 433.60,53.68 435.07,58.75 435.56,60.20 436.05,61.33 436.29,61.76 436.78,62.42" fill="none" stroke="#c25a5a" stroke-width="1.35" stroke-linejoin="round" stroke-linecap="round"/>
<polyline points="442.78,62.42 443.52,61.57 444.02,60.75 444.77,59.17 446.01,56.17 446.51,55.20 447.00,54.55 447.25,54.38 447.50,54.33 447.75,54.38 448.00,54.55 448.49,55.20 448.99,56.17 450.23,59.17 450.98,60.75 451.48,61.57 452.22,62.43" fill="none" stroke="#c25a5a" stroke-width="1.35" stroke-linejoin="round" stroke-linecap="round"/>
<polyline points="462.69,62.44 463.43,61.84 464.18,61.03 464.92,60.01 466.41,57.74 467.16,56.81 467.90,56.25 468.40,56.14 468.90,56.25 469.64,56.82 470.39,57.74 471.88,60.01 472.62,61.03 473.37,61.85 474.11,62.44" fill="none" stroke="#c25a5a" stroke-width="1.35" stroke-linejoin="round" stroke-linecap="round"/>
<polyline points="490.91,62.46 491.90,61.98 494.15,60.67 495.15,60.16 496.15,59.84 496.90,59.76 497.65,59.84 498.65,60.16 499.65,60.67 501.90,61.99 502.89,62.46" fill="none" stroke="#c25a5a" stroke-width="1.35" stroke-linejoin="round" stroke-linecap="round"/>
<text x="417.20" y="40.88" font-size="6.3" text-anchor="middle" font-weight="bold" fill="#000" stroke="#000" stroke-width="0.18">DP1</text>
<text x="425.20" y="47.48" font-size="6.3" text-anchor="middle" font-weight="bold" fill="#000" stroke="#000" stroke-width="0.18">DP2</text>
<text x="435.60" y="51.18" font-size="6.3" text-anchor="middle" font-weight="bold" fill="#000" stroke="#000" stroke-width="0.18">DP3</text>
<text x="451.60" y="53.38" font-size="6.3" text-anchor="middle" font-weight="bold" fill="#000" stroke="#000" stroke-width="0.18">DP4</text>
<text x="471.10" y="55.68" font-size="6.3" text-anchor="middle" font-weight="bold" fill="#000" stroke="#000" stroke-width="0.18">DP5</text>
<text x="500.40" y="58.68" font-size="6.3" text-anchor="middle" font-weight="bold" fill="#000" stroke="#000" stroke-width="0.18">DP6</text>
<text x="564.80" y="64.60" font-size="6.15" text-anchor="start" font-weight="bold" fill="#000" stroke="#000" stroke-width="0.18">Standard</text>
<polyline points="401.80,88.00 447.54,87.93 449.79,87.84 452.29,87.50 453.29,87.43 454.29,87.49 457.04,87.85 459.29,87.92 483.28,87.88 485.28,87.82 486.78,87.60 487.53,87.35 488.03,87.10 488.53,86.75 489.03,86.29 489.53,85.68 490.03,84.90 490.78,83.38 491.53,81.37 492.28,78.89 494.53,69.91 495.53,66.45 496.03,65.17 496.53,64.31 496.78,64.05 497.03,63.90 497.28,63.88 497.53,63.98 498.03,64.53 498.53,65.53 499.03,66.92 499.78,69.55 501.53,76.65 502.28,79.44 503.03,81.82 503.78,83.72 504.53,85.15 505.03,85.87 505.53,86.43 506.03,86.85 506.53,87.16 507.28,87.47 508.03,87.65 509.28,87.79 511.28,87.85 526.52,87.80 529.52,87.66 534.27,87.13 536.27,87.02 538.27,87.12 543.52,87.67 547.77,87.80 631.00,87.70" fill="none" stroke="#98d0e0" stroke-width="1.15" stroke-linejoin="round"/>
<polyline points="488.21,86.99 488.95,86.37 489.70,85.43 490.45,84.10 490.95,82.96 491.45,81.60 492.20,79.17 494.70,69.25 495.45,66.68 495.95,65.35 496.45,64.42 496.70,64.12 496.95,63.94 497.20,63.88 497.45,63.94 497.70,64.12 497.95,64.42 498.45,65.35 498.95,66.67 499.70,69.24 502.20,79.16 502.95,81.58 503.45,82.94 503.95,84.08 504.70,85.41 505.45,86.34 506.19,86.96" fill="none" stroke="#47aac8" stroke-width="1.35" stroke-linejoin="round" stroke-linecap="round"/>
<text x="652.40" y="88.18" font-size="6.0" text-anchor="end" font-weight="bold" fill="#000" stroke="#000" stroke-width="0.18">Control</text>
<polyline points="404.80,109.60 415.29,109.58 416.54,109.46 419.04,108.92 420.04,108.83 421.04,108.94 423.04,109.40 424.04,109.54 425.54,109.63 427.79,109.62 429.54,109.44 432.03,108.77 433.03,108.66 434.03,108.79 436.53,109.47 437.53,109.60 438.53,109.64 440.53,109.53 443.03,109.06 444.03,108.98 445.03,109.07 447.77,109.58 450.02,109.68 481.25,109.74 483.75,109.65 485.25,109.42 486.00,109.18 486.50,108.94 487.50,108.22 488.00,107.70 488.50,107.05 489.50,105.29 490.25,103.53 491.25,100.61 493.75,91.80 494.50,89.46 495.00,88.19 495.50,87.20 496.00,86.56 496.25,86.38 496.50,86.29 496.74,86.30 496.99,86.40 497.49,86.90 497.99,87.74 498.49,88.90 499.49,91.94 501.24,98.22 502.24,101.54 503.24,104.28 503.99,105.90 504.49,106.76 504.99,107.48 505.49,108.05 505.99,108.51 506.49,108.86 507.24,109.24 507.99,109.48 508.74,109.62 510.24,109.76 512.24,109.81 529.73,109.83 532.97,109.74 537.97,109.34 539.97,109.27 541.97,109.35 547.21,109.78 551.71,109.89 580.20,109.93 583.44,109.84 588.19,109.53 590.19,109.47 592.19,109.53 597.18,109.88 600.93,109.98 655.40,110.10" fill="none" stroke="#4a4a4a" stroke-width="1.15" stroke-linejoin="round"/>
<polyline points="486.64,108.86 487.63,108.09 488.38,107.22 489.13,106.02 489.88,104.45 490.62,102.51 491.37,100.21 493.61,92.26 494.61,89.15 495.11,87.94 495.60,87.04 496.10,86.47 496.35,86.33 496.60,86.28 496.85,86.33 497.10,86.48 497.60,87.04 498.09,87.95 498.59,89.16 499.59,92.27 501.83,100.23 502.58,102.53 503.32,104.48 504.07,106.05 504.82,107.25 505.57,108.13 506.56,108.90" fill="none" stroke="#111" stroke-width="1.35" stroke-linejoin="round" stroke-linecap="round"/>
<polyline points="568.70,107.40 577.93,107.38 579.92,107.32 581.42,107.19 582.92,106.95 584.16,106.62 588.40,105.06 589.40,104.85 590.15,104.80 591.15,104.88 592.14,105.10 595.63,106.42 597.13,106.86 598.88,107.18 600.87,107.34 605.86,107.40 623.57,107.36 626.56,107.18 631.30,106.52 633.29,106.40 635.04,106.49 639.28,107.09 641.52,107.29 644.52,107.38 651.00,107.40" fill="none" stroke="#4a4a4a" stroke-width="0.8" stroke-linejoin="round"/>
<text x="591.30" y="103.58" font-size="6.3" text-anchor="middle" font-weight="bold" fill="#000" stroke="#000" stroke-width="0.18">DP8</text>
<text x="632.70" y="104.88" font-size="6.3" text-anchor="middle" font-weight="bold" fill="#000" stroke="#000" stroke-width="0.18">DP9</text>
<text x="662.00" y="106.08" font-size="6.0" text-anchor="end" font-weight="bold" fill="#000" stroke="#000" stroke-width="0.18">1 min</text>
<polyline points="411.90,132.30 416.40,132.26 417.15,132.14 417.90,131.83 418.40,131.44 418.90,130.87 419.40,130.09 420.64,127.62 421.14,126.77 421.64,126.24 421.89,126.13 422.14,126.14 422.39,126.27 422.89,126.83 424.64,130.17 425.14,130.93 425.64,131.47 426.14,131.81 426.39,131.91 426.89,131.99 427.39,131.90 427.89,131.63 428.39,131.11 428.89,130.27 429.64,128.25 430.39,125.24 431.64,119.00 432.14,116.81 432.64,115.29 432.89,114.85 433.14,114.66 433.39,114.72 433.64,115.04 434.14,116.36 434.64,118.41 435.89,124.67 436.39,126.88 436.88,128.68 437.13,129.40 437.63,130.54 437.88,130.96 438.38,131.57 438.88,131.94 439.38,132.15 440.38,132.31 441.38,132.29 442.13,132.18 442.88,131.89 443.63,131.28 444.13,130.60 444.63,129.62 445.13,128.28 445.63,126.57 446.13,124.52 447.88,116.53 448.38,114.90 448.63,114.34 448.88,113.97 449.13,113.80 449.38,113.84 449.63,114.10 449.88,114.55 450.38,116.00 450.88,118.00 452.38,124.99 452.88,126.98 453.37,128.61 453.87,129.87 454.37,130.79 454.87,131.42 455.62,131.98 456.37,132.24 457.12,132.35 460.12,132.39 461.12,132.33 462.12,132.18 462.87,131.96 463.37,131.73 464.37,131.02 465.37,129.89 466.12,128.78 467.62,126.30 468.37,125.26 469.12,124.60 469.62,124.44 470.11,124.52 470.36,124.65 470.86,125.08 471.61,126.05 473.36,128.93 474.36,130.33 475.36,131.33 476.36,131.92 477.11,132.18 477.86,132.32 479.86,132.45 485.11,132.44 486.35,132.33 487.10,132.17 488.10,131.72 488.60,131.34 489.10,130.81 489.85,129.65 490.60,127.96 491.10,126.50 491.85,123.81 494.10,113.78 494.85,110.96 495.35,109.59 495.60,109.10 495.85,108.75 496.10,108.55 496.35,108.51 496.60,108.61 496.85,108.87 497.10,109.28 497.35,109.82 497.85,111.29 498.60,114.21 500.10,121.07 500.85,124.21 501.60,126.83 502.35,128.85 503.09,130.28 503.59,130.96 504.09,131.46 504.59,131.82 505.09,132.07 506.34,132.39 508.84,132.53 518.34,132.54 520.83,132.44 522.83,132.15 524.33,131.67 525.83,130.88 527.08,129.97 529.58,127.90 530.58,127.23 531.58,126.80 532.33,126.69 532.83,126.72 533.33,126.84 533.83,127.03 534.58,127.45 535.58,128.19 538.32,130.46 539.32,131.13 540.07,131.53 541.07,131.94 542.07,132.22 543.32,132.43 544.82,132.55 548.32,132.63 559.31,132.64 562.31,132.58 564.56,132.42 566.56,132.11 568.31,131.67 569.80,131.15 572.80,129.97 574.30,129.49 575.55,129.25 576.55,129.20 577.80,129.31 579.05,129.60 580.30,130.03 583.80,131.41 585.79,132.01 588.04,132.43 590.79,132.65 597.04,132.75 622.02,132.76 626.02,132.59 632.27,131.96 635.02,131.84 637.51,131.96 643.01,132.55 646.26,132.77 650.51,132.87 660.00,132.90" fill="none" stroke="#4a4a4a" stroke-width="1.15" stroke-linejoin="round"/>
<polyline points="418.42,131.42 418.92,130.84 419.41,130.06 420.64,127.62 421.14,126.78 421.63,126.25 421.88,126.14 422.12,126.14 422.37,126.25 422.86,126.79 423.36,127.63 424.59,130.07 425.08,130.85 425.58,131.41" fill="none" stroke="#111" stroke-width="1.35" stroke-linejoin="round" stroke-linecap="round"/>
<polyline points="428.12,131.42 428.62,130.77 429.11,129.77 429.86,127.48 430.60,124.24 431.84,118.06 432.33,116.12 432.58,115.42 432.83,114.93 433.08,114.68 433.32,114.68 433.57,114.93 433.82,115.42 434.31,117.02 436.05,125.43 436.79,128.37 437.53,130.34 437.78,130.80 438.28,131.46" fill="none" stroke="#111" stroke-width="1.35" stroke-linejoin="round" stroke-linecap="round"/>
<polyline points="443.44,131.48 443.93,130.90 444.42,130.07 445.16,128.20 445.89,125.54 447.61,117.63 448.10,115.74 448.59,114.42 448.83,114.02 449.08,113.82 449.32,113.82 449.57,114.02 449.81,114.42 450.06,115.00 450.55,116.64 452.26,124.50 452.75,126.53 453.24,128.22 453.98,130.09 454.47,130.93 454.96,131.50" fill="none" stroke="#111" stroke-width="1.35" stroke-linejoin="round" stroke-linecap="round"/>
<polyline points="463.72,131.53 464.72,130.67 465.47,129.76 467.71,126.16 468.45,125.16 468.95,124.71 469.20,124.56 469.70,124.44 470.20,124.56 470.45,124.71 470.95,125.17 471.69,126.17 473.93,129.78 474.68,130.70 475.68,131.55" fill="none" stroke="#111" stroke-width="1.35" stroke-linejoin="round" stroke-linecap="round"/>
<polyline points="488.30,131.58 489.05,130.87 489.55,130.17 490.30,128.70 490.80,127.41 491.30,125.84 492.05,122.99 494.05,113.99 494.80,111.12 495.30,109.70 495.55,109.18 495.80,108.81 496.05,108.58 496.30,108.50 496.55,108.58 496.80,108.81 497.05,109.19 497.30,109.71 497.80,111.12 498.55,114.00 500.55,123.01 501.30,125.86 501.80,127.43 502.30,128.73 503.05,130.20 503.55,130.90 504.30,131.62" fill="none" stroke="#111" stroke-width="1.35" stroke-linejoin="round" stroke-linecap="round"/>
<polyline points="524.33,131.67 525.33,131.18 526.32,130.55 529.30,128.12 530.29,127.40 531.28,126.90 532.28,126.69 532.77,126.72 533.27,126.82 533.77,127.00 534.51,127.41 535.50,128.13 538.48,130.58 539.47,131.22 540.47,131.71" fill="none" stroke="#111" stroke-width="1.35" stroke-linejoin="round" stroke-linecap="round"/>
<polyline points="567.93,131.78 569.42,131.30 572.65,130.03 573.89,129.61 575.13,129.31 576.38,129.20 577.62,129.28 579.11,129.62 580.35,130.05 583.58,131.33 585.07,131.82" fill="none" stroke="#111" stroke-width="1.35" stroke-linejoin="round" stroke-linecap="round"/>
<text x="533.20" y="126.88" font-size="6.3" text-anchor="middle" font-weight="bold" fill="#000" stroke="#000" stroke-width="0.18">DP7</text>
<text x="577.30" y="127.58" font-size="6.3" text-anchor="middle" font-weight="bold" fill="#000" stroke="#000" stroke-width="0.18">DP8</text>
<text x="636.10" y="131.28" font-size="6.3" text-anchor="middle" font-weight="bold" fill="#000" stroke="#000" stroke-width="0.18">DP9</text>
<text x="665.40" y="132.18" font-size="6.0" text-anchor="end" font-weight="bold" fill="#000" stroke="#000" stroke-width="0.18">15 min</text>
<line x1="410.6" y1="133.2" x2="410.6" y2="157.2" stroke="#999" stroke-width="0.8"/>
<polyline points="410.60,157.10 411.35,156.90 411.85,156.65 412.35,156.28 413.60,155.09 414.10,154.73 414.35,154.64 414.60,154.60 415.10,154.72 415.60,155.04 416.35,155.66 416.85,155.93 417.10,155.98 417.35,155.95 417.60,155.82 417.85,155.59 418.35,154.80 418.85,153.52 420.85,146.11 421.10,145.48 421.35,145.05 421.60,144.84 421.85,144.86 422.10,145.11 422.60,146.23 423.09,147.98 424.34,152.90 424.84,154.42 425.34,155.52 425.84,156.22 426.34,156.58 426.59,156.65 427.09,156.59 427.59,156.24 428.09,155.54 428.59,154.41 429.34,151.67 430.09,147.58 431.34,139.11 431.84,136.15 432.34,134.09 432.59,133.50 432.84,133.25 433.09,133.34 433.34,133.77 433.84,135.57 434.34,138.36 435.84,148.40 436.34,151.13 436.84,153.25 437.34,154.78 437.59,155.35 438.09,156.17 438.34,156.46 438.84,156.83 439.34,157.03 439.84,157.13 440.59,157.13 441.09,157.06 441.59,156.91 442.09,156.65 442.84,155.91 443.34,155.10 443.59,154.57 444.34,152.39 444.84,150.43 446.59,141.66 447.09,139.43 447.59,137.79 447.84,137.26 448.08,136.95 448.33,136.86 448.58,137.01 448.83,137.39 449.08,137.98 449.58,139.72 451.58,149.64 452.33,152.65 452.83,154.14 453.58,155.67 453.83,156.02 454.33,156.53 455.08,156.97 455.58,157.11 456.33,157.22 458.83,157.25 460.58,157.08 461.33,156.87 461.83,156.65 462.33,156.32 462.83,155.88 463.33,155.29 463.83,154.55 464.58,153.12 465.33,151.35 466.58,148.12 467.33,146.43 467.83,145.59 468.08,145.28 468.58,144.93 468.83,144.89 469.08,144.95 469.33,145.10 469.58,145.34 470.08,146.07 470.83,147.65 472.58,152.11 473.32,153.75 473.82,154.65 474.32,155.38 474.82,155.95 475.32,156.38 476.07,156.82 476.82,157.06 477.57,157.20 478.82,157.28 481.57,157.30 483.57,157.24 485.07,157.06 486.07,156.77 486.82,156.42 487.57,155.88 488.32,155.12 489.07,154.11 489.57,153.28 490.32,151.82 492.57,146.55 493.57,144.47 494.07,143.68 494.57,143.11 495.07,142.80 495.32,142.74 495.57,142.75 496.07,142.98 496.57,143.47 497.07,144.19 498.06,146.17 500.56,152.01 501.56,153.86 502.31,154.94 503.31,155.97 504.31,156.62 505.31,156.99 506.81,157.25 509.81,157.35 515.56,157.31 517.56,157.15 518.56,156.96 519.31,156.75 520.06,156.46 520.81,156.08 522.06,155.21 523.30,154.08 525.55,151.78 526.55,150.93 527.55,150.37 528.05,150.23 528.55,150.19 529.05,150.25 529.55,150.42 530.55,151.02 531.55,151.89 534.55,154.90 535.55,155.69 536.30,156.16 537.30,156.63 538.30,156.96 539.55,157.20 541.05,157.33 544.30,157.41 554.29,157.41 557.29,157.35 559.54,157.18 561.29,156.92 563.04,156.51 564.54,156.03 567.79,154.83 569.04,154.45 570.29,154.22 571.29,154.16 572.54,154.25 574.03,154.59 578.53,156.21 580.78,156.85 583.03,157.22 585.78,157.41 589.78,157.48 601.52,157.51 610.52,157.44 614.27,157.24 621.52,156.39 624.51,156.24 627.01,156.37 633.76,157.20 637.76,157.47 643.01,157.56 660.00,157.60" fill="none" stroke="#4a4a4a" stroke-width="1.15" stroke-linejoin="round"/>
<polyline points="417.53,155.87 418.02,155.37 418.27,154.95 418.76,153.78 419.25,152.18 420.72,146.49 421.21,145.26 421.45,144.93 421.70,144.82 421.95,144.93 422.19,145.26 422.44,145.79 422.93,147.34 424.15,152.22 424.64,153.86 425.13,155.11 425.38,155.58 425.87,156.25" fill="none" stroke="#111" stroke-width="1.35" stroke-linejoin="round" stroke-linecap="round"/>
<polyline points="427.57,156.26 428.07,155.59 428.56,154.49 429.31,151.84 430.05,147.85 431.78,136.45 432.28,134.28 432.53,133.62 432.78,133.28 433.02,133.28 433.27,133.62 433.52,134.28 434.02,136.45 435.75,147.86 436.49,151.85 437.24,154.52 437.73,155.63 438.23,156.34" fill="none" stroke="#111" stroke-width="1.35" stroke-linejoin="round" stroke-linecap="round"/>
<polyline points="442.45,156.35 442.95,155.76 443.45,154.87 444.20,152.87 444.94,149.97 446.68,141.19 447.18,139.06 447.68,137.57 447.93,137.12 448.18,136.89 448.42,136.89 448.67,137.12 448.92,137.57 449.42,139.07 449.92,141.20 451.66,149.98 452.40,152.89 453.15,154.89 453.65,155.77 454.15,156.37" fill="none" stroke="#111" stroke-width="1.35" stroke-linejoin="round" stroke-linecap="round"/>
<polyline points="462.25,156.38 462.74,155.97 463.24,155.41 463.98,154.29 464.97,152.23 466.70,147.82 467.19,146.70 467.93,145.45 468.43,145.00 468.68,144.90 468.92,144.91 469.42,145.18 469.67,145.45 470.16,146.22 470.90,147.83 472.63,152.24 473.37,153.85 473.87,154.72 474.36,155.43 474.86,155.99 475.35,156.40" fill="none" stroke="#111" stroke-width="1.35" stroke-linejoin="round" stroke-linecap="round"/>
<polyline points="486.81,156.42 487.55,155.89 488.05,155.42 488.80,154.50 489.30,153.74 490.54,151.33 492.54,146.62 493.53,144.53 494.03,143.73 494.53,143.15 495.03,142.81 495.28,142.74 495.52,142.74 496.02,142.95 496.52,143.41 497.02,144.11 498.02,146.06 500.01,150.79 501.25,153.34 501.75,154.16 502.50,155.17 503.25,155.92 503.99,156.45" fill="none" stroke="#111" stroke-width="1.35" stroke-linejoin="round" stroke-linecap="round"/>
<polyline points="520.02,156.48 521.26,155.79 522.26,155.04 523.26,154.12 525.51,151.83 526.50,150.97 527.50,150.39 528.00,150.24 528.50,150.19 529.00,150.24 529.50,150.39 530.50,150.98 531.49,151.84 533.74,154.14 534.74,155.06 535.74,155.81 536.98,156.50" fill="none" stroke="#111" stroke-width="1.35" stroke-linejoin="round" stroke-linecap="round"/>
<polyline points="562.92,156.54 564.40,156.08 568.59,154.57 570.07,154.25 571.30,154.16 572.53,154.25 574.01,154.58 578.20,156.10 579.68,156.57" fill="none" stroke="#111" stroke-width="1.35" stroke-linejoin="round" stroke-linecap="round"/>
<text x="530.60" y="149.38" font-size="6.3" text-anchor="middle" font-weight="bold" fill="#000" stroke="#000" stroke-width="0.18">DP7</text>
<text x="572.10" y="152.78" font-size="6.3" text-anchor="middle" font-weight="bold" fill="#000" stroke="#000" stroke-width="0.18">DP8</text>
<text x="626.50" y="154.58" font-size="6.3" text-anchor="middle" font-weight="bold" fill="#000" stroke="#000" stroke-width="0.18">DP9</text>
<text x="665.40" y="156.08" font-size="6.0" text-anchor="end" font-weight="bold" fill="#000" stroke="#000" stroke-width="0.18">30 min</text>
<polyline points="411.00,177.93 411.50,177.57 412.00,176.98 412.50,176.17 413.75,173.75 414.25,173.15 414.50,173.02 414.75,173.03 415.00,173.17 415.25,173.42 416.49,175.50 416.99,176.09 417.24,176.21 417.49,176.19 417.74,176.02 417.99,175.67 418.49,174.46 418.99,172.55 420.49,164.55 420.99,162.41 421.24,161.69 421.49,161.26 421.74,161.16 421.99,161.37 422.24,161.89 422.49,162.70 422.99,164.97 424.24,171.85 424.74,174.08 425.24,175.74 425.74,176.84 425.98,177.22 426.48,177.66 426.73,177.75 427.23,177.71 427.73,177.39 428.23,176.73 428.48,176.25 428.98,174.95 429.23,174.12 429.98,170.85 431.48,162.40 431.98,160.09 432.48,158.61 432.73,158.27 432.98,158.22 433.23,158.46 433.48,158.97 433.98,160.74 435.97,171.65 436.47,173.81 436.97,175.46 437.47,176.63 437.72,177.06 438.22,177.67 438.97,178.15 439.97,178.37 441.47,178.36 442.22,178.23 442.72,178.05 443.47,177.57 444.22,176.69 444.72,175.81 445.47,174.00 447.21,168.37 447.71,166.96 448.21,165.93 448.46,165.61 448.71,165.42 448.96,165.39 449.21,165.50 449.46,165.76 449.96,166.67 450.71,168.78 452.21,173.68 452.96,175.59 453.46,176.54 453.96,177.24 454.71,177.91 455.46,178.26 456.70,178.47 459.45,178.52 461.45,178.40 462.70,178.10 463.70,177.56 464.20,177.14 464.70,176.61 465.45,175.59 466.19,174.32 467.69,171.54 468.44,170.41 468.94,169.89 469.19,169.72 469.69,169.58 469.94,169.62 470.44,169.88 471.19,170.73 471.69,171.53 473.94,175.60 474.69,176.64 475.19,177.18 475.93,177.78 476.93,178.25 477.93,178.48 479.18,178.59 482.68,178.64 485.43,178.59 487.17,178.41 488.42,178.10 489.67,177.54 490.67,176.87 491.67,176.02 493.67,174.08 494.67,173.28 495.17,172.99 495.66,172.80 496.41,172.71 497.16,172.88 498.16,173.46 498.91,174.09 501.41,176.50 502.41,177.27 503.16,177.73 504.16,178.16 505.16,178.44 506.15,178.60 507.65,178.72 518.89,178.80 521.14,178.74 522.89,178.59 524.39,178.31 525.88,177.86 527.13,177.33 529.63,176.15 530.63,175.77 531.63,175.54 532.38,175.49 533.38,175.58 534.38,175.86 535.38,176.27 538.37,177.70 540.12,178.31 542.12,178.71 544.87,178.91 559.35,179.01 565.59,178.98 568.84,178.83 575.09,178.22 577.83,178.10 580.33,178.23 587.07,178.94 592.07,179.15 618.29,179.27 622.04,179.20 628.28,178.91 631.03,178.86 633.28,178.92 639.27,179.26 642.77,179.38 660.00,179.50" fill="none" stroke="#4a4a4a" stroke-width="1.15" stroke-linejoin="round"/>
<polyline points="411.66,177.40 412.40,176.35 413.87,173.57 414.36,173.08 414.60,173.01 414.84,173.07 415.33,173.54 416.31,175.21 416.80,175.91 417.05,176.13 417.29,176.22 417.54,176.17" fill="none" stroke="#111" stroke-width="1.35" stroke-linejoin="round" stroke-linecap="round"/>
<polyline points="417.28,176.22 417.52,176.18 417.77,175.99 418.02,175.63 418.51,174.41 419.24,171.36 420.72,163.48 421.21,161.76 421.45,161.31 421.70,161.15 421.95,161.31 422.19,161.77 422.68,163.49 424.16,171.44 424.89,174.66 425.38,176.12 425.63,176.65 426.12,177.37" fill="none" stroke="#111" stroke-width="1.35" stroke-linejoin="round" stroke-linecap="round"/>
<polyline points="427.71,177.41 428.21,176.77 428.45,176.31 428.95,175.06 429.19,174.25 429.94,171.08 431.42,162.73 431.91,160.36 432.41,158.77 432.65,158.35 432.90,158.21 433.15,158.35 433.39,158.77 433.89,160.37 434.38,162.74 435.86,171.11 436.61,174.29 436.85,175.11 437.35,176.37 437.59,176.85 438.09,177.53" fill="none" stroke="#111" stroke-width="1.35" stroke-linejoin="round" stroke-linecap="round"/>
<polyline points="443.48,177.56 443.98,177.03 444.47,176.28 445.21,174.69 445.95,172.56 447.18,168.49 447.92,166.49 448.41,165.67 448.65,165.45 448.90,165.38 449.15,165.46 449.39,165.67 449.88,166.50 450.62,168.50 451.85,172.59 452.59,174.73 453.33,176.32 453.82,177.07 454.32,177.61" fill="none" stroke="#111" stroke-width="1.35" stroke-linejoin="round" stroke-linecap="round"/>
<polyline points="463.56,177.65 464.05,177.27 464.54,176.79 465.28,175.83 466.02,174.64 467.74,171.46 468.47,170.37 468.96,169.87 469.21,169.71 469.70,169.58 470.19,169.72 470.44,169.88 470.93,170.38 471.66,171.48 473.38,174.67 474.12,175.88 474.86,176.84 475.35,177.33 475.84,177.71" fill="none" stroke="#111" stroke-width="1.35" stroke-linejoin="round" stroke-linecap="round"/>
<polyline points="489.21,177.78 489.96,177.37 490.95,176.65 493.69,174.06 494.43,173.44 495.43,172.88 495.93,172.74 496.42,172.72 497.17,172.88 498.17,173.46 498.91,174.09 501.65,176.70 502.64,177.43 503.39,177.85" fill="none" stroke="#111" stroke-width="1.35" stroke-linejoin="round" stroke-linecap="round"/>
<polyline points="525.62,177.95 526.85,177.46 529.32,176.29 530.30,175.88 531.29,175.60 532.28,175.49 533.26,175.56 534.50,175.90 535.48,176.32 537.95,177.52 539.18,178.02" fill="none" stroke="#111" stroke-width="1.35" stroke-linejoin="round" stroke-linecap="round"/>
<polyline points="559.60,178.69 562.35,178.64 564.35,178.52 566.09,178.29 567.59,177.94 568.84,177.52 570.09,176.97 571.34,176.30 574.09,174.67 575.33,174.05 576.58,173.64 577.83,173.50 579.08,173.66 580.33,174.08 581.58,174.71 585.07,176.75 587.07,177.64 588.07,177.96 589.32,178.25 590.57,178.44 592.07,178.58 596.31,178.69 609.55,178.70 614.05,178.65 617.04,178.52 619.04,178.32 621.04,177.97 623.04,177.47 628.03,175.97 629.53,175.70 631.03,175.60 632.28,175.67 633.78,175.93 635.27,176.33 640.02,177.76 641.77,178.13 643.77,178.41 645.76,178.57 648.51,178.66 659.50,178.70" fill="none" stroke="#4a4a4a" stroke-width="0.8" stroke-linejoin="round"/>
<text x="533.20" y="175.28" font-size="6.3" text-anchor="middle" font-weight="bold" fill="#000" stroke="#000" stroke-width="0.18">DP7</text>
<text x="579.10" y="172.78" font-size="6.3" text-anchor="middle" font-weight="bold" fill="#000" stroke="#000" stroke-width="0.18">DP8</text>
<text x="631.70" y="174.78" font-size="6.3" text-anchor="middle" font-weight="bold" fill="#000" stroke="#000" stroke-width="0.18">DP9</text>
<text x="665.00" y="178.08" font-size="6.0" text-anchor="end" font-weight="bold" fill="#000" stroke="#000" stroke-width="0.18">60 min</text>
<polyline points="410.60,201.13 411.10,200.83 411.35,200.59 411.85,199.90 412.35,198.90 413.85,195.09 414.10,194.67 414.35,194.40 414.60,194.30 414.85,194.39 415.10,194.65 415.35,195.06 416.60,198.08 417.10,199.01 417.35,199.30 417.60,199.44 417.85,199.42 418.10,199.24 418.35,198.88 418.85,197.63 419.09,196.72 419.59,194.34 421.59,181.21 422.09,179.10 422.34,178.53 422.59,178.33 422.84,178.51 423.09,179.06 423.59,181.14 424.09,184.19 425.34,192.83 425.84,195.62 426.34,197.75 426.84,199.22 427.34,200.14 427.84,200.63 428.34,200.78 428.84,200.64 429.34,200.23 429.84,199.51 430.34,198.43 430.84,196.96 431.34,195.09 432.84,188.12 433.34,186.05 433.84,184.54 434.09,184.06 434.34,183.81 434.59,183.77 434.84,183.96 435.09,184.37 435.58,185.77 436.08,187.77 437.83,195.79 438.33,197.53 438.83,198.88 439.33,199.85 439.58,200.21 440.08,200.74 440.83,201.17 441.83,201.37 443.08,201.32 444.08,201.06 444.83,200.66 445.58,199.98 446.08,199.35 446.83,198.10 448.58,194.32 449.33,192.89 449.83,192.21 450.08,191.99 450.33,191.85 450.58,191.80 450.83,191.83 451.08,191.96 451.33,192.17 451.83,192.82 452.57,194.23 454.32,198.03 455.07,199.30 455.57,199.95 456.32,200.65 457.07,201.07 458.07,201.36 459.32,201.48 462.07,201.51 464.07,201.46 465.32,201.31 466.57,200.98 467.57,200.50 468.57,199.78 471.06,197.35 471.81,196.75 472.56,196.36 473.31,196.25 474.06,196.45 474.81,196.92 475.56,197.58 477.56,199.56 478.31,200.18 479.06,200.66 479.81,201.00 480.81,201.30 481.81,201.45 483.31,201.55 490.05,201.55 491.80,201.47 493.30,201.28 494.55,201.01 495.80,200.59 499.80,198.77 500.80,198.50 501.80,198.42 502.79,198.55 503.79,198.85 507.29,200.49 509.04,201.09 511.04,201.46 513.79,201.62 526.53,201.67 529.03,201.63 531.03,201.53 532.78,201.33 534.28,201.05 539.52,199.62 540.52,199.46 541.52,199.41 542.52,199.47 543.77,199.69 548.02,200.91 550.02,201.34 552.26,201.60 555.01,201.72 578.25,201.77 581.75,201.70 587.99,201.39 590.74,201.33 593.24,201.40 599.99,201.75 604.48,201.85 660.20,202.00" fill="none" stroke="#4a4a4a" stroke-width="1.15" stroke-linejoin="round"/>
<polyline points="411.43,200.50 412.16,199.31 413.87,195.05 414.11,194.65 414.36,194.39 414.60,194.30 414.84,194.39 415.09,194.64 415.33,195.03 416.55,197.98 417.04,198.93 417.28,199.24 417.53,199.41 417.77,199.44" fill="none" stroke="#111" stroke-width="1.35" stroke-linejoin="round" stroke-linecap="round"/>
<polyline points="417.63,199.44 417.88,199.40 418.13,199.20 418.38,198.83 418.87,197.53 419.12,196.60 419.87,192.74 421.11,184.17 421.61,181.14 422.10,179.07 422.35,178.51 422.60,178.33 422.85,178.52 423.10,179.07 423.59,181.14 424.09,184.18 425.33,192.78 426.08,196.71 426.33,197.70 426.82,199.18 427.07,199.71 427.57,200.41" fill="none" stroke="#111" stroke-width="1.35" stroke-linejoin="round" stroke-linecap="round"/>
<polyline points="429.11,200.46 429.60,199.90 429.84,199.50 430.58,197.78 431.07,196.15 431.56,194.15 433.27,186.28 433.76,184.71 434.01,184.19 434.25,183.87 434.50,183.76 434.75,183.87 434.99,184.19 435.24,184.71 435.73,186.28 437.44,194.17 437.93,196.17 438.42,197.80 439.16,199.55 439.40,199.96 439.89,200.57" fill="none" stroke="#111" stroke-width="1.35" stroke-linejoin="round" stroke-linecap="round"/>
<polyline points="444.93,200.58 445.42,200.15 445.92,199.57 446.66,198.42 447.40,196.95 448.63,194.22 449.37,192.82 449.86,192.18 450.11,191.97 450.35,191.84 450.60,191.80 450.85,191.84 451.09,191.97 451.34,192.18 451.83,192.83 452.57,194.23 453.80,196.97 454.54,198.44 455.28,199.59 455.78,200.17 456.27,200.61" fill="none" stroke="#111" stroke-width="1.35" stroke-linejoin="round" stroke-linecap="round"/>
<polyline points="467.32,200.64 468.06,200.17 468.79,199.58 471.00,197.41 471.73,196.80 472.47,196.39 473.20,196.25 473.93,196.40 474.67,196.81 475.40,197.43 477.61,199.61 478.34,200.20 479.08,200.66" fill="none" stroke="#111" stroke-width="1.35" stroke-linejoin="round" stroke-linecap="round"/>
<polyline points="495.49,200.70 499.71,198.80 500.71,198.52 501.70,198.42 502.69,198.52 503.69,198.81 507.91,200.73" fill="none" stroke="#111" stroke-width="1.35" stroke-linejoin="round" stroke-linecap="round"/>
<polyline points="568.70,198.90 576.17,198.82 578.16,198.69 579.90,198.45 581.39,198.11 582.88,197.64 586.87,195.93 588.11,195.45 589.35,195.13 590.60,195.00 591.84,195.09 593.09,195.39 594.33,195.84 598.56,197.66 600.06,198.13 601.55,198.46 603.29,198.69 605.28,198.82 612.00,198.90" fill="none" stroke="#4a4a4a" stroke-width="0.8" stroke-linejoin="round"/>
<text x="542.00" y="197.58" font-size="6.3" text-anchor="middle" font-weight="bold" fill="#000" stroke="#000" stroke-width="0.18">DP7</text>
<text x="591.30" y="194.28" font-size="6.3" text-anchor="middle" font-weight="bold" fill="#000" stroke="#000" stroke-width="0.18">DP8</text>
<text x="664.60" y="200.68" font-size="6.0" text-anchor="end" font-weight="bold" fill="#000" stroke="#000" stroke-width="0.18">120 min</text>
<polyline points="410.60,225.05 411.35,224.91 411.85,224.69 412.35,224.29 412.85,223.62 413.60,222.02 415.10,217.76 415.60,216.87 415.85,216.66 416.10,216.64 416.35,216.80 416.60,217.14 417.10,218.21 418.35,221.55 418.85,222.37 419.10,222.56 419.35,222.59 419.60,222.42 419.85,222.07 420.35,220.76 420.60,219.79 421.10,217.26 422.60,206.89 423.09,203.90 423.34,202.78 423.59,201.99 423.84,201.56 424.09,201.51 424.34,201.86 424.59,202.57 425.09,204.95 426.84,217.02 427.59,220.86 428.09,222.56 428.59,223.67 429.09,224.31 429.34,224.48 429.84,224.61 430.34,224.48 430.84,224.10 431.34,223.45 431.84,222.49 432.34,221.19 432.84,219.56 434.34,213.71 434.84,212.06 435.34,210.93 435.59,210.61 435.84,210.47 436.09,210.52 436.34,210.76 436.59,211.17 437.09,212.47 439.09,220.06 439.59,221.61 440.09,222.83 440.59,223.73 441.34,224.58 442.09,225.00 443.09,225.20 444.09,225.18 445.09,224.99 445.84,224.69 446.59,224.19 447.09,223.73 447.84,222.82 449.58,220.17 450.33,219.21 450.83,218.78 451.08,218.65 451.58,218.57 452.08,218.74 452.83,219.41 453.33,220.07 455.33,223.09 456.08,223.95 456.58,224.39 457.33,224.85 458.08,225.13 458.83,225.28 460.08,225.39 466.33,225.43 467.83,225.37 469.08,225.21 470.08,224.97 471.08,224.61 474.32,222.96 475.07,222.71 475.82,222.62 476.57,222.69 477.32,222.91 478.07,223.26 480.32,224.49 481.82,225.08 483.57,225.43 486.07,225.57 492.32,225.60 495.57,225.48 497.82,225.20 502.06,224.33 503.81,224.20 504.81,224.25 505.81,224.40 509.31,225.18 511.06,225.48 513.06,225.67 515.81,225.76 530.80,225.87 535.30,225.84 538.30,225.69 543.80,225.07 546.05,224.97 548.29,225.09 554.54,225.84 556.79,225.97 559.54,226.04 660.00,226.70" fill="none" stroke="#4a4a4a" stroke-width="1.15" stroke-linejoin="round"/>
<polyline points="412.42,224.21 412.91,223.51 413.41,222.50 415.14,217.67 415.63,216.83 415.88,216.65 416.12,216.65 416.37,216.83 416.86,217.65 418.10,220.98 418.59,222.03 418.84,222.37 419.09,222.56 419.33,222.59 419.58,222.44" fill="none" stroke="#111" stroke-width="1.35" stroke-linejoin="round" stroke-linecap="round"/>
<polyline points="419.01,222.52 419.26,222.60 419.51,222.50 419.76,222.21 420.26,221.04 420.51,220.15 421.26,216.29 423.00,204.38 423.50,202.24 423.75,201.68 424.00,201.49 424.25,201.68 424.50,202.25 425.00,204.40 425.50,207.54 426.74,216.39 427.49,220.43 427.74,221.43 428.24,222.95 428.49,223.49 428.99,224.21" fill="none" stroke="#111" stroke-width="1.35" stroke-linejoin="round" stroke-linecap="round"/>
<polyline points="430.67,224.26 431.17,223.71 431.42,223.32 432.16,221.69 432.91,219.31 434.65,212.63 435.15,211.28 435.40,210.83 435.65,210.55 435.90,210.46 436.15,210.56 436.40,210.84 436.65,211.29 437.15,212.64 438.89,219.35 439.64,221.74 440.38,223.40 441.13,224.39" fill="none" stroke="#111" stroke-width="1.35" stroke-linejoin="round" stroke-linecap="round"/>
<polyline points="446.27,224.43 447.02,223.79 447.77,222.92 449.51,220.28 450.26,219.29 450.75,218.83 451.00,218.68 451.50,218.56 452.00,218.69 452.25,218.84 452.74,219.31 453.49,220.30 455.23,222.96 455.98,223.85 456.73,224.50" fill="none" stroke="#111" stroke-width="1.35" stroke-linejoin="round" stroke-linecap="round"/>
<polyline points="522.00,222.30 532.23,222.28 535.97,222.12 537.47,221.95 538.96,221.69 543.95,220.42 545.20,220.24 546.20,220.20 547.19,220.26 548.44,220.46 552.43,221.50 554.18,221.87 556.17,222.12 558.42,222.25 563.66,222.30 579.62,222.27 583.12,222.18 589.35,221.86 592.10,221.80 594.59,221.86 602.57,222.24 612.80,222.30" fill="none" stroke="#4a4a4a" stroke-width="0.8" stroke-linejoin="round"/>
<text x="545.40" y="217.58" font-size="6.3" text-anchor="middle" font-weight="bold" fill="#000" stroke="#000" stroke-width="0.18">DP7</text>
<text x="592.60" y="221.48" font-size="6.3" text-anchor="middle" font-weight="bold" fill="#000" stroke="#000" stroke-width="0.18">DP8</text>
<text x="664.60" y="224.78" font-size="6.0" text-anchor="end" font-weight="bold" fill="#000" stroke="#000" stroke-width="0.18">240 min</text>
<polyline points="411.50,247.65 412.25,247.49 412.75,247.22 413.00,247.00 413.50,246.30 414.00,245.14 414.75,242.31 416.00,235.69 416.49,233.51 416.74,232.77 416.99,232.33 417.24,232.22 417.49,232.45 417.74,233.00 417.99,233.83 419.49,241.26 419.99,243.14 420.24,243.76 420.49,244.13 420.74,244.25 420.99,244.10 421.24,243.67 421.74,242.01 422.24,239.32 423.99,226.58 424.24,225.29 424.49,224.36 424.74,223.85 424.99,223.78 425.24,224.16 425.49,224.97 425.74,226.16 426.24,229.42 427.48,239.00 427.98,242.05 428.48,244.31 428.98,245.83 429.48,246.76 429.73,247.06 430.23,247.44 430.98,247.67 431.73,247.70 432.73,247.62 435.23,247.09 436.23,247.00 437.22,247.11 439.97,247.69 441.22,247.79 442.97,247.82 660.00,248.70" fill="none" stroke="#4a4a4a" stroke-width="1.15" stroke-linejoin="round"/>
<polyline points="413.17,246.81 413.66,245.99 413.90,245.40 414.39,243.82 414.88,241.68 416.34,234.08 416.59,233.20 416.83,232.58 417.08,232.26 417.32,232.26 417.57,232.58 417.81,233.19 418.06,234.07 419.52,241.39 420.01,243.20 420.25,243.79 420.50,244.14 420.74,244.25 420.99,244.10 421.23,243.69" fill="none" stroke="#111" stroke-width="1.35" stroke-linejoin="round" stroke-linecap="round"/>
<polyline points="420.24,243.75 420.48,244.12 420.73,244.25 420.97,244.12 421.22,243.72 421.71,242.14 422.45,237.95 423.92,226.99 424.41,224.61 424.65,223.97 424.90,223.75 425.15,223.97 425.39,224.61 425.88,227.01 427.35,238.10 428.09,242.61 428.34,243.73 428.83,245.43 429.07,246.04 429.56,246.87" fill="none" stroke="#111" stroke-width="1.35" stroke-linejoin="round" stroke-linecap="round"/>
<polyline points="429.70,246.26 430.70,246.06 431.70,245.69 432.70,245.11 434.95,243.55 435.69,243.26 436.19,243.20 436.69,243.26 437.44,243.55 439.94,245.26 440.94,245.79 441.94,246.11 443.19,246.29 444.69,246.30 446.18,246.18 447.68,245.94 450.68,245.32 452.18,245.20 453.93,245.36 457.92,246.15 460.42,246.35 463.17,246.37 465.67,246.28 467.66,246.11 471.16,245.70 473.16,245.60 475.16,245.69 480.15,246.24 483.90,246.38" fill="none" stroke="#4a4a4a" stroke-width="0.8" stroke-linejoin="round"/>
<text x="436.20" y="240.78" font-size="6.3" text-anchor="middle" font-weight="bold" fill="#000" stroke="#000" stroke-width="0.18">DP3</text>
<text x="453.70" y="242.28" font-size="6.3" text-anchor="middle" font-weight="bold" fill="#000" stroke="#000" stroke-width="0.18">DP4</text>
<text x="474.50" y="243.48" font-size="6.3" text-anchor="middle" font-weight="bold" fill="#000" stroke="#000" stroke-width="0.18">DP5</text>
<text x="664.10" y="248.08" font-size="6.0" text-anchor="end" font-weight="bold" fill="#000" stroke="#000" stroke-width="0.18">420 min</text>
<text x="7.20" y="299.70" font-size="17" text-anchor="start" font-weight="bold" fill="#000" letter-spacing="0.5">C)</text>
<rect x="60.0" y="315.2" width="244.8" height="194.0" fill="none" stroke="#000" stroke-width="1.5"/>
<line x1="55.4" y1="509.21" x2="60" y2="509.21" stroke="#000" stroke-width="1.3"/>
<text x="53.50" y="512.01" font-size="9.5" text-anchor="end" font-weight="bold" fill="#000" stroke="#000" stroke-width="0.2">-0.05</text>
<line x1="55.4" y1="488.80" x2="60" y2="488.80" stroke="#000" stroke-width="1.3"/>
<text x="53.50" y="491.60" font-size="9.5" text-anchor="end" font-weight="bold" fill="#000" stroke="#000" stroke-width="0.2">0.00</text>
<line x1="55.4" y1="468.39" x2="60" y2="468.39" stroke="#000" stroke-width="1.3"/>
<text x="53.50" y="471.19" font-size="9.5" text-anchor="end" font-weight="bold" fill="#000" stroke="#000" stroke-width="0.2">0.05</text>
<line x1="55.4" y1="447.98" x2="60" y2="447.98" stroke="#000" stroke-width="1.3"/>
<text x="53.50" y="450.78" font-size="9.5" text-anchor="end" font-weight="bold" fill="#000" stroke="#000" stroke-width="0.2">0.10</text>
<line x1="55.4" y1="427.57" x2="60" y2="427.57" stroke="#000" stroke-width="1.3"/>
<text x="53.50" y="430.37" font-size="9.5" text-anchor="end" font-weight="bold" fill="#000" stroke="#000" stroke-width="0.2">0.15</text>
<line x1="55.4" y1="407.16" x2="60" y2="407.16" stroke="#000" stroke-width="1.3"/>
<text x="53.50" y="409.96" font-size="9.5" text-anchor="end" font-weight="bold" fill="#000" stroke="#000" stroke-width="0.2">0.20</text>
<line x1="55.4" y1="386.75" x2="60" y2="386.75" stroke="#000" stroke-width="1.3"/>
<text x="53.50" y="389.55" font-size="9.5" text-anchor="end" font-weight="bold" fill="#000" stroke="#000" stroke-width="0.2">0.25</text>
<line x1="55.4" y1="366.34" x2="60" y2="366.34" stroke="#000" stroke-width="1.3"/>
<text x="53.50" y="369.14" font-size="9.5" text-anchor="end" font-weight="bold" fill="#000" stroke="#000" stroke-width="0.2">0.30</text>
<line x1="55.4" y1="345.93" x2="60" y2="345.93" stroke="#000" stroke-width="1.3"/>
<text x="53.50" y="348.73" font-size="9.5" text-anchor="end" font-weight="bold" fill="#000" stroke="#000" stroke-width="0.2">0.35</text>
<line x1="55.4" y1="325.52" x2="60" y2="325.52" stroke="#000" stroke-width="1.3"/>
<text x="53.50" y="328.32" font-size="9.5" text-anchor="end" font-weight="bold" fill="#000" stroke="#000" stroke-width="0.2">0.40</text>
<line x1="74.30" y1="509.2" x2="74.30" y2="514" stroke="#000" stroke-width="1.3"/>
<text x="74.30" y="523.00" font-size="9.4" text-anchor="middle" font-weight="bold" fill="#000" stroke="#000" stroke-width="0.2">0</text>
<line x1="103.09" y1="509.2" x2="103.09" y2="514" stroke="#000" stroke-width="1.3"/>
<text x="103.09" y="523.00" font-size="9.4" text-anchor="middle" font-weight="bold" fill="#000" stroke="#000" stroke-width="0.2">100</text>
<line x1="131.88" y1="509.2" x2="131.88" y2="514" stroke="#000" stroke-width="1.3"/>
<text x="131.88" y="523.00" font-size="9.4" text-anchor="middle" font-weight="bold" fill="#000" stroke="#000" stroke-width="0.2">200</text>
<line x1="160.67" y1="509.2" x2="160.67" y2="514" stroke="#000" stroke-width="1.3"/>
<text x="160.67" y="523.00" font-size="9.4" text-anchor="middle" font-weight="bold" fill="#000" stroke="#000" stroke-width="0.2">300</text>
<line x1="189.46" y1="509.2" x2="189.46" y2="514" stroke="#000" stroke-width="1.3"/>
<text x="189.46" y="523.00" font-size="9.4" text-anchor="middle" font-weight="bold" fill="#000" stroke="#000" stroke-width="0.2">400</text>
<line x1="218.25" y1="509.2" x2="218.25" y2="514" stroke="#000" stroke-width="1.3"/>
<text x="218.25" y="523.00" font-size="9.4" text-anchor="middle" font-weight="bold" fill="#000" stroke="#000" stroke-width="0.2">500</text>
<line x1="247.04" y1="509.2" x2="247.04" y2="514" stroke="#000" stroke-width="1.3"/>
<text x="247.04" y="523.00" font-size="9.4" text-anchor="middle" font-weight="bold" fill="#000" stroke="#000" stroke-width="0.2">600</text>
<line x1="275.83" y1="509.2" x2="275.83" y2="514" stroke="#000" stroke-width="1.3"/>
<text x="275.83" y="523.00" font-size="9.4" text-anchor="middle" font-weight="bold" fill="#000" stroke="#000" stroke-width="0.2">700</text>
<line x1="304.62" y1="509.2" x2="304.62" y2="514" stroke="#000" stroke-width="1.3"/>
<text x="304.62" y="523.00" font-size="9.4" text-anchor="middle" font-weight="bold" fill="#000" stroke="#000" stroke-width="0.2">800</text>
<text x="185.40" y="538.20" font-size="11.8" text-anchor="middle" font-weight="bold" fill="#000" stroke="#000" stroke-width="0.2">Time (min)</text>
<text transform="translate(32.4,419.5) rotate(-90)" font-size="12.3" font-weight="bold" text-anchor="middle" stroke="#000" stroke-width="0.2">Concentration (mM)</text>
<polyline points="74.30,487.98 75.16,488.80 76.03,487.98 77.18,487.98 78.62,487.98 82.94,487.98 87.26,487.98 91.57,487.58 108.85,482.68 117.48,478.60 126.12,475.33 143.40,469.21 160.67,461.45 177.94,450.02 195.22,443.49 212.49,422.67 247.04,374.91 281.59,335.73" fill="none" stroke="#666" stroke-width="0.8"/>
<rect x="72.43" y="486.11" width="3.74" height="3.74" fill="#000"/>
<rect x="73.29" y="486.93" width="3.74" height="3.74" fill="#000"/>
<rect x="74.16" y="486.11" width="3.74" height="3.74" fill="#000"/>
<rect x="75.31" y="486.11" width="3.74" height="3.74" fill="#000"/>
<rect x="76.75" y="486.11" width="3.74" height="3.74" fill="#000"/>
<rect x="81.06" y="486.11" width="3.74" height="3.74" fill="#000"/>
<rect x="85.38" y="486.11" width="3.74" height="3.74" fill="#000"/>
<rect x="89.70" y="485.70" width="3.74" height="3.74" fill="#000"/>
<rect x="106.98" y="480.81" width="3.74" height="3.74" fill="#000"/>
<rect x="115.61" y="476.72" width="3.74" height="3.74" fill="#000"/>
<rect x="124.25" y="473.46" width="3.74" height="3.74" fill="#000"/>
<rect x="141.52" y="467.33" width="3.74" height="3.74" fill="#000"/>
<rect x="158.80" y="459.58" width="3.74" height="3.74" fill="#000"/>
<rect x="176.07" y="448.15" width="3.74" height="3.74" fill="#000"/>
<rect x="193.35" y="441.62" width="3.74" height="3.74" fill="#000"/>
<rect x="210.62" y="420.80" width="3.74" height="3.74" fill="#000"/>
<rect x="245.17" y="373.04" width="3.74" height="3.74" fill="#000"/>
<rect x="279.72" y="333.85" width="3.74" height="3.74" fill="#000"/>
<polyline points="74.30,490.84 75.16,488.80 75.74,487.17 77.18,485.53 78.62,482.68 82.94,470.84 87.26,466.35 91.57,458.19 108.85,442.27 117.48,427.16 126.12,421.86 143.40,410.43 160.67,400.22 177.94,375.73 195.22,370.42 212.49,333.68 247.04,335.73 281.59,337.77" fill="none" stroke="#e8141b" stroke-width="0.8"/>
<circle cx="74.30" cy="490.84" r="2.52" fill="#e8141b"/>
<circle cx="75.16" cy="488.80" r="2.52" fill="#e8141b"/>
<circle cx="75.74" cy="487.17" r="2.52" fill="#e8141b"/>
<circle cx="77.18" cy="485.53" r="2.52" fill="#e8141b"/>
<circle cx="78.62" cy="482.68" r="2.52" fill="#e8141b"/>
<circle cx="82.94" cy="470.84" r="2.52" fill="#e8141b"/>
<circle cx="87.26" cy="466.35" r="2.52" fill="#e8141b"/>
<circle cx="91.57" cy="458.19" r="2.52" fill="#e8141b"/>
<circle cx="108.85" cy="442.27" r="2.52" fill="#e8141b"/>
<circle cx="117.48" cy="427.16" r="2.52" fill="#e8141b"/>
<circle cx="126.12" cy="421.86" r="2.52" fill="#e8141b"/>
<circle cx="143.40" cy="410.43" r="2.52" fill="#e8141b"/>
<circle cx="160.67" cy="400.22" r="2.52" fill="#e8141b"/>
<circle cx="177.94" cy="375.73" r="2.52" fill="#e8141b"/>
<circle cx="195.22" cy="370.42" r="2.52" fill="#e8141b"/>
<circle cx="212.49" cy="333.68" r="2.52" fill="#e8141b"/>
<circle cx="247.04" cy="335.73" r="2.52" fill="#e8141b"/>
<circle cx="281.59" cy="337.77" r="2.52" fill="#e8141b"/>
<polyline points="74.30,477.78 74.88,469.21 75.74,463.90 77.18,449.61 78.62,444.71 82.94,439.41 87.26,444.71 91.57,444.31 108.85,449.20 117.48,444.71 126.12,443.90 143.40,440.43 160.67,437.86 177.94,429.82 195.22,433.28 212.49,427.33 247.04,459.21 281.59,494.51" fill="none" stroke="#1414d2" stroke-width="0.8"/>
<path d="M74.30,475.02 L77.06,479.82 L71.54,479.82Z" fill="#1414d2"/>
<path d="M74.88,466.45 L77.64,471.25 L72.12,471.25Z" fill="#1414d2"/>
<path d="M75.74,461.14 L78.50,465.94 L72.98,465.94Z" fill="#1414d2"/>
<path d="M77.18,446.85 L79.94,451.65 L74.42,451.65Z" fill="#1414d2"/>
<path d="M78.62,441.95 L81.38,446.75 L75.86,446.75Z" fill="#1414d2"/>
<path d="M82.94,436.65 L85.70,441.45 L80.18,441.45Z" fill="#1414d2"/>
<path d="M87.26,441.95 L90.02,446.75 L84.50,446.75Z" fill="#1414d2"/>
<path d="M91.57,441.55 L94.33,446.35 L88.81,446.35Z" fill="#1414d2"/>
<path d="M108.85,446.44 L111.61,451.24 L106.09,451.24Z" fill="#1414d2"/>
<path d="M117.48,441.95 L120.24,446.75 L114.72,446.75Z" fill="#1414d2"/>
<path d="M126.12,441.14 L128.88,445.94 L123.36,445.94Z" fill="#1414d2"/>
<path d="M143.40,437.67 L146.16,442.47 L140.64,442.47Z" fill="#1414d2"/>
<path d="M160.67,435.10 L163.43,439.90 L157.91,439.90Z" fill="#1414d2"/>
<path d="M177.94,427.06 L180.70,431.86 L175.18,431.86Z" fill="#1414d2"/>
<path d="M195.22,430.52 L197.98,435.32 L192.46,435.32Z" fill="#1414d2"/>
<path d="M212.49,424.57 L215.25,429.37 L209.73,429.37Z" fill="#1414d2"/>
<path d="M247.04,456.45 L249.80,461.25 L244.28,461.25Z" fill="#1414d2"/>
<path d="M281.59,491.75 L284.35,496.55 L278.83,496.55Z" fill="#1414d2"/>
<polyline points="74.30,488.80 75.74,487.17 77.18,485.53 78.62,482.27 82.94,474.92 87.26,472.47 91.57,468.39 108.85,467.17 117.48,466.35 126.12,465.94 143.40,466.19 160.67,468.80 177.94,466.55 195.22,471.66 212.49,474.76 247.04,492.88 281.59,494.92" fill="none" stroke="#158a8a" stroke-width="0.8"/>
<path d="M74.30,491.56 L77.06,486.76 L71.54,486.76Z" fill="#127a7a"/>
<path d="M75.74,489.93 L78.50,485.13 L72.98,485.13Z" fill="#127a7a"/>
<path d="M77.18,488.29 L79.94,483.49 L74.42,483.49Z" fill="#127a7a"/>
<path d="M78.62,485.03 L81.38,480.23 L75.86,480.23Z" fill="#127a7a"/>
<path d="M82.94,477.68 L85.70,472.88 L80.18,472.88Z" fill="#127a7a"/>
<path d="M87.26,475.23 L90.02,470.43 L84.50,470.43Z" fill="#127a7a"/>
<path d="M91.57,471.15 L94.33,466.35 L88.81,466.35Z" fill="#127a7a"/>
<path d="M108.85,469.93 L111.61,465.13 L106.09,465.13Z" fill="#127a7a"/>
<path d="M117.48,469.11 L120.24,464.31 L114.72,464.31Z" fill="#127a7a"/>
<path d="M126.12,468.70 L128.88,463.90 L123.36,463.90Z" fill="#127a7a"/>
<path d="M143.40,468.95 L146.16,464.15 L140.64,464.15Z" fill="#127a7a"/>
<path d="M160.67,471.56 L163.43,466.76 L157.91,466.76Z" fill="#127a7a"/>
<path d="M177.94,469.31 L180.70,464.51 L175.18,464.51Z" fill="#127a7a"/>
<path d="M195.22,474.42 L197.98,469.62 L192.46,469.62Z" fill="#127a7a"/>
<path d="M212.49,477.52 L215.25,472.72 L209.73,472.72Z" fill="#127a7a"/>
<path d="M247.04,495.64 L249.80,490.84 L244.28,490.84Z" fill="#127a7a"/>
<path d="M281.59,497.68 L284.35,492.88 L278.83,492.88Z" fill="#127a7a"/>
<polyline points="74.30,367.56 74.44,381.04 75.74,416.96 76.60,423.49 78.62,439.41 82.36,460.23 87.26,466.76 91.57,468.39 108.85,471.04 117.48,472.47 126.12,472.47 143.40,473.29 160.67,477.37 177.94,476.76 195.22,482.43 212.49,485.41 247.04,494.92 281.59,494.92" fill="none" stroke="#e0187c" stroke-width="0.8"/>
<path d="M71.54,367.56 L76.34,364.80 L76.34,370.32Z" fill="#e0187c"/>
<path d="M71.68,381.04 L76.48,378.28 L76.48,383.80Z" fill="#e0187c"/>
<path d="M72.98,416.96 L77.78,414.20 L77.78,419.72Z" fill="#e0187c"/>
<path d="M73.84,423.49 L78.64,420.73 L78.64,426.25Z" fill="#e0187c"/>
<path d="M75.86,439.41 L80.66,436.65 L80.66,442.17Z" fill="#e0187c"/>
<path d="M79.60,460.23 L84.40,457.47 L84.40,462.99Z" fill="#e0187c"/>
<path d="M84.50,466.76 L89.30,464.00 L89.30,469.52Z" fill="#e0187c"/>
<path d="M88.81,468.39 L93.61,465.63 L93.61,471.15Z" fill="#e0187c"/>
<path d="M106.09,471.04 L110.89,468.28 L110.89,473.80Z" fill="#e0187c"/>
<path d="M114.72,472.47 L119.52,469.71 L119.52,475.23Z" fill="#e0187c"/>
<path d="M123.36,472.47 L128.16,469.71 L128.16,475.23Z" fill="#e0187c"/>
<path d="M140.64,473.29 L145.44,470.53 L145.44,476.05Z" fill="#e0187c"/>
<path d="M157.91,477.37 L162.71,474.61 L162.71,480.13Z" fill="#e0187c"/>
<path d="M175.18,476.76 L179.98,474.00 L179.98,479.52Z" fill="#e0187c"/>
<path d="M192.46,482.43 L197.26,479.67 L197.26,485.19Z" fill="#e0187c"/>
<path d="M209.73,485.41 L214.53,482.65 L214.53,488.17Z" fill="#e0187c"/>
<path d="M244.28,494.92 L249.08,492.16 L249.08,497.68Z" fill="#e0187c"/>
<path d="M278.83,494.92 L283.63,492.16 L283.63,497.68Z" fill="#e0187c"/>
<polyline points="74.30,496.15 74.59,493.70 74.88,491.25 75.16,488.80 75.74,487.58 76.60,486.76 77.18,486.35 82.94,481.45 87.26,481.04 91.57,481.04 108.85,482.27 117.48,494.51 126.12,482.27 143.40,483.49 160.67,487.58 177.94,487.58 195.22,494.51 212.49,492.47 247.04,495.33 281.59,495.33" fill="none" stroke="#7a0a0a" stroke-width="0.8"/>
<path d="M77.06,496.15 L72.26,493.39 L72.26,498.91Z" fill="#7a0a0a"/>
<path d="M77.35,493.70 L72.55,490.94 L72.55,496.46Z" fill="#7a0a0a"/>
<path d="M77.64,491.25 L72.84,488.49 L72.84,494.01Z" fill="#7a0a0a"/>
<path d="M77.92,488.80 L73.12,486.04 L73.12,491.56Z" fill="#7a0a0a"/>
<path d="M78.50,487.58 L73.70,484.82 L73.70,490.34Z" fill="#7a0a0a"/>
<path d="M79.36,486.76 L74.56,484.00 L74.56,489.52Z" fill="#7a0a0a"/>
<path d="M79.94,486.35 L75.14,483.59 L75.14,489.11Z" fill="#7a0a0a"/>
<path d="M85.70,481.45 L80.90,478.69 L80.90,484.21Z" fill="#7a0a0a"/>
<path d="M90.02,481.04 L85.22,478.28 L85.22,483.80Z" fill="#7a0a0a"/>
<path d="M94.33,481.04 L89.53,478.28 L89.53,483.80Z" fill="#7a0a0a"/>
<path d="M111.61,482.27 L106.81,479.51 L106.81,485.03Z" fill="#7a0a0a"/>
<path d="M120.24,494.51 L115.44,491.75 L115.44,497.27Z" fill="#7a0a0a"/>
<path d="M128.88,482.27 L124.08,479.51 L124.08,485.03Z" fill="#7a0a0a"/>
<path d="M146.16,483.49 L141.36,480.73 L141.36,486.25Z" fill="#7a0a0a"/>
<path d="M163.43,487.58 L158.63,484.82 L158.63,490.34Z" fill="#7a0a0a"/>
<path d="M180.70,487.58 L175.90,484.82 L175.90,490.34Z" fill="#7a0a0a"/>
<path d="M197.98,494.51 L193.18,491.75 L193.18,497.27Z" fill="#7a0a0a"/>
<path d="M215.25,492.47 L210.45,489.71 L210.45,495.23Z" fill="#7a0a0a"/>
<path d="M249.80,495.33 L245.00,492.57 L245.00,498.09Z" fill="#7a0a0a"/>
<path d="M284.35,495.33 L279.55,492.57 L279.55,498.09Z" fill="#7a0a0a"/>
<line x1="249.04" y1="495.33" x2="279.59" y2="495.33" stroke="#9a7272" stroke-width="1.2"/>
<rect x="255.2" y="379.5" width="42.6" height="73.5" fill="#fff" stroke="#888" stroke-width="0.8"/>
<line x1="256.5" y1="388.2" x2="263.2" y2="388.2" stroke="#aaa" stroke-width="1"/>
<line x1="270.6" y1="388.2" x2="277.5" y2="388.2" stroke="#aaa" stroke-width="1"/>
<rect x="264.88" y="386.18" width="4.05" height="4.05" fill="#000"/>
<text x="280.20" y="391.40" font-size="9.4" text-anchor="start" font-weight="normal" fill="#000" >DP1</text>
<line x1="256.5" y1="399.6" x2="277.5" y2="399.6" stroke="#e8141b" stroke-width="1"/>
<circle cx="266.90" cy="399.60" r="2.31" fill="#e8141b"/>
<text x="280.20" y="402.80" font-size="9.4" text-anchor="start" font-weight="normal" fill="#000" >DP2</text>
<line x1="256.5" y1="411.1" x2="277.5" y2="411.1" stroke="#1414d2" stroke-width="1"/>
<path d="M266.90,408.57 L269.43,412.97 L264.37,412.97Z" fill="#1414d2"/>
<text x="280.20" y="414.30" font-size="9.4" text-anchor="start" font-weight="normal" fill="#000" >DP3</text>
<line x1="256.5" y1="422.8" x2="277.5" y2="422.8" stroke="#158a8a" stroke-width="1"/>
<path d="M266.90,425.33 L269.43,420.93 L264.37,420.93Z" fill="#127a7a"/>
<text x="280.20" y="426.00" font-size="9.4" text-anchor="start" font-weight="normal" fill="#000" >DP4</text>
<line x1="256.5" y1="434.5" x2="277.5" y2="434.5" stroke="#e0187c" stroke-width="1"/>
<path d="M264.37,434.50 L268.77,431.97 L268.77,437.03Z" fill="#e0187c"/>
<text x="280.20" y="437.70" font-size="9.4" text-anchor="start" font-weight="normal" fill="#000" >DP5</text>
<line x1="256.5" y1="446.3" x2="277.5" y2="446.3" stroke="#7a0a0a" stroke-width="1"/>
<path d="M269.43,446.30 L265.03,443.77 L265.03,448.83Z" fill="#7a0a0a"/>
<text x="280.20" y="449.50" font-size="9.4" text-anchor="start" font-weight="normal" fill="#000" >DP6</text>
<text x="361.30" y="296.20" font-size="17" text-anchor="start" font-weight="bold" fill="#000" letter-spacing="0.5">D)</text>
<rect x="413.0" y="310.1" width="252.6" height="200.0" fill="none" stroke="#000" stroke-width="1.5"/>
<line x1="408.8" y1="494.20" x2="413" y2="494.20" stroke="#000" stroke-width="1.3"/>
<text x="405.90" y="497.50" font-size="9.5" text-anchor="end" font-weight="bold" fill="#000" stroke="#000" stroke-width="0.2">0.0</text>
<line x1="408.8" y1="463.48" x2="413" y2="463.48" stroke="#000" stroke-width="1.3"/>
<text x="405.90" y="466.78" font-size="9.5" text-anchor="end" font-weight="bold" fill="#000" stroke="#000" stroke-width="0.2">0.1</text>
<line x1="408.8" y1="432.76" x2="413" y2="432.76" stroke="#000" stroke-width="1.3"/>
<text x="405.90" y="436.06" font-size="9.5" text-anchor="end" font-weight="bold" fill="#000" stroke="#000" stroke-width="0.2">0.2</text>
<line x1="408.8" y1="402.04" x2="413" y2="402.04" stroke="#000" stroke-width="1.3"/>
<text x="405.90" y="405.34" font-size="9.5" text-anchor="end" font-weight="bold" fill="#000" stroke="#000" stroke-width="0.2">0.3</text>
<line x1="408.8" y1="371.32" x2="413" y2="371.32" stroke="#000" stroke-width="1.3"/>
<text x="405.90" y="374.62" font-size="9.5" text-anchor="end" font-weight="bold" fill="#000" stroke="#000" stroke-width="0.2">0.4</text>
<line x1="408.8" y1="340.60" x2="413" y2="340.60" stroke="#000" stroke-width="1.3"/>
<text x="405.90" y="343.90" font-size="9.5" text-anchor="end" font-weight="bold" fill="#000" stroke="#000" stroke-width="0.2">0.5</text>
<line x1="408.8" y1="309.88" x2="413" y2="309.88" stroke="#000" stroke-width="1.3"/>
<text x="405.90" y="313.18" font-size="9.5" text-anchor="end" font-weight="bold" fill="#000" stroke="#000" stroke-width="0.2">0.6</text>
<line x1="435.90" y1="510.1" x2="435.90" y2="514.4" stroke="#000" stroke-width="1.3"/>
<text x="435.90" y="524.60" font-size="9.7" text-anchor="middle" font-weight="bold" fill="#000" stroke="#000" stroke-width="0.2">0</text>
<line x1="482.10" y1="510.1" x2="482.10" y2="514.4" stroke="#000" stroke-width="1.3"/>
<text x="482.10" y="524.60" font-size="9.7" text-anchor="middle" font-weight="bold" fill="#000" stroke="#000" stroke-width="0.2">100</text>
<line x1="528.30" y1="510.1" x2="528.30" y2="514.4" stroke="#000" stroke-width="1.3"/>
<text x="528.30" y="524.60" font-size="9.7" text-anchor="middle" font-weight="bold" fill="#000" stroke="#000" stroke-width="0.2">200</text>
<line x1="574.50" y1="510.1" x2="574.50" y2="514.4" stroke="#000" stroke-width="1.3"/>
<text x="574.50" y="524.60" font-size="9.7" text-anchor="middle" font-weight="bold" fill="#000" stroke="#000" stroke-width="0.2">300</text>
<line x1="620.70" y1="510.1" x2="620.70" y2="514.4" stroke="#000" stroke-width="1.3"/>
<text x="620.70" y="524.60" font-size="9.7" text-anchor="middle" font-weight="bold" fill="#000" stroke="#000" stroke-width="0.2">400</text>
<line x1="666.90" y1="510.1" x2="666.90" y2="514.4" stroke="#000" stroke-width="1.3"/>
<text x="666.90" y="524.60" font-size="9.7" text-anchor="middle" font-weight="bold" fill="#000" stroke="#000" stroke-width="0.2">500</text>
<text x="550.40" y="536.40" font-size="12.4" text-anchor="middle" font-weight="bold" fill="#000" stroke="#000" stroke-width="0.2">Time (min)</text>
<text transform="translate(381.8,404.2) rotate(-90)" font-size="12.7" font-weight="bold" text-anchor="middle" stroke="#000" stroke-width="0.2">Concentration (mM)</text>
<polyline points="435.90,494.20 438.21,493.59 440.52,492.97 442.83,492.36 449.76,490.82 456.69,488.98 463.62,486.83 477.48,481.91 491.34,475.77 505.20,466.86 519.06,461.02 546.78,434.30 574.50,354.12 629.94,351.04" fill="none" stroke="#333" stroke-width="0.75"/>
<rect x="433.65" y="491.95" width="4.51" height="4.51" fill="#000"/>
<rect x="435.96" y="491.33" width="4.51" height="4.51" fill="#000"/>
<rect x="438.27" y="490.72" width="4.51" height="4.51" fill="#000"/>
<rect x="440.58" y="490.10" width="4.51" height="4.51" fill="#000"/>
<rect x="447.51" y="488.57" width="4.51" height="4.51" fill="#000"/>
<rect x="454.44" y="486.72" width="4.51" height="4.51" fill="#000"/>
<rect x="461.37" y="484.57" width="4.51" height="4.51" fill="#000"/>
<rect x="475.23" y="479.66" width="4.51" height="4.51" fill="#000"/>
<rect x="489.09" y="473.51" width="4.51" height="4.51" fill="#000"/>
<rect x="502.95" y="464.61" width="4.51" height="4.51" fill="#000"/>
<rect x="516.81" y="458.77" width="4.51" height="4.51" fill="#000"/>
<rect x="544.53" y="432.04" width="4.51" height="4.51" fill="#000"/>
<rect x="572.25" y="351.86" width="4.51" height="4.51" fill="#000"/>
<rect x="627.69" y="348.79" width="4.51" height="4.51" fill="#000"/>
<polyline points="435.90,492.66 438.21,488.06 440.52,484.98 442.83,481.91 449.76,477.30 456.69,473.92 463.62,468.70 477.48,460.72 491.34,452.57 505.20,442.59 519.06,437.68 546.78,413.10 574.50,347.05 629.94,341.52" fill="none" stroke="#f03030" stroke-width="0.75"/>
<circle cx="435.90" cy="492.66" r="2.57" fill="#f01010"/>
<circle cx="438.21" cy="488.06" r="2.57" fill="#f01010"/>
<circle cx="440.52" cy="484.98" r="2.57" fill="#f01010"/>
<circle cx="442.83" cy="481.91" r="2.57" fill="#f01010"/>
<circle cx="449.76" cy="477.30" r="2.57" fill="#f01010"/>
<circle cx="456.69" cy="473.92" r="2.57" fill="#f01010"/>
<circle cx="463.62" cy="468.70" r="2.57" fill="#f01010"/>
<circle cx="477.48" cy="460.72" r="2.57" fill="#f01010"/>
<circle cx="491.34" cy="452.57" r="2.57" fill="#f01010"/>
<circle cx="505.20" cy="442.59" r="2.57" fill="#f01010"/>
<circle cx="519.06" cy="437.68" r="2.57" fill="#f01010"/>
<circle cx="546.78" cy="413.10" r="2.57" fill="#f01010"/>
<circle cx="574.50" cy="347.05" r="2.57" fill="#f01010"/>
<circle cx="629.94" cy="341.52" r="2.57" fill="#f01010"/>
<polyline points="435.90,488.06 437.29,481.91 438.21,480.38 440.52,478.23 442.83,475.77 449.76,470.24 456.69,469.32 463.62,466.86 477.48,466.24 491.34,465.48 505.20,462.56 519.06,461.64 546.78,459.18 574.50,493.59 629.94,493.59" fill="none" stroke="#3a3ae8" stroke-width="0.75"/>
<path d="M435.90,485.24 L438.72,490.14 L433.08,490.14Z" fill="#1010e0"/>
<path d="M437.29,479.09 L440.10,483.99 L434.47,483.99Z" fill="#1010e0"/>
<path d="M438.21,477.56 L441.03,482.46 L435.39,482.46Z" fill="#1010e0"/>
<path d="M440.52,475.41 L443.34,480.31 L437.70,480.31Z" fill="#1010e0"/>
<path d="M442.83,472.95 L445.65,477.85 L440.01,477.85Z" fill="#1010e0"/>
<path d="M449.76,467.42 L452.58,472.32 L446.94,472.32Z" fill="#1010e0"/>
<path d="M456.69,466.50 L459.51,471.40 L453.87,471.40Z" fill="#1010e0"/>
<path d="M463.62,464.04 L466.44,468.94 L460.80,468.94Z" fill="#1010e0"/>
<path d="M477.48,463.43 L480.30,468.33 L474.66,468.33Z" fill="#1010e0"/>
<path d="M491.34,462.66 L494.16,467.56 L488.52,467.56Z" fill="#1010e0"/>
<path d="M505.20,459.74 L508.02,464.64 L502.38,464.64Z" fill="#1010e0"/>
<path d="M519.06,458.82 L521.88,463.72 L516.24,463.72Z" fill="#1010e0"/>
<path d="M546.78,456.36 L549.60,461.26 L543.96,461.26Z" fill="#1010e0"/>
<path d="M574.50,490.77 L577.32,495.67 L571.68,495.67Z" fill="#1010e0"/>
<path d="M629.94,490.77 L632.76,495.67 L627.12,495.67Z" fill="#1010e0"/>
<polyline points="435.90,484.37 437.29,481.91 438.21,480.07 440.52,478.23 442.83,477.00 449.76,476.38 456.69,477.00 463.62,477.30 477.48,479.15 491.34,479.45 505.20,480.38 519.06,480.99 546.78,484.37 574.50,493.59 629.94,493.59" fill="none" stroke="#2a9090" stroke-width="0.75"/>
<path d="M435.90,487.19 L438.72,482.29 L433.08,482.29Z" fill="#108080"/>
<path d="M437.29,484.73 L440.10,479.83 L434.47,479.83Z" fill="#108080"/>
<path d="M438.21,482.89 L441.03,477.99 L435.39,477.99Z" fill="#108080"/>
<path d="M440.52,481.04 L443.34,476.14 L437.70,476.14Z" fill="#108080"/>
<path d="M442.83,479.81 L445.65,474.91 L440.01,474.91Z" fill="#108080"/>
<path d="M449.76,479.20 L452.58,474.30 L446.94,474.30Z" fill="#108080"/>
<path d="M456.69,479.81 L459.51,474.91 L453.87,474.91Z" fill="#108080"/>
<path d="M463.62,480.12 L466.44,475.22 L460.80,475.22Z" fill="#108080"/>
<path d="M477.48,481.96 L480.30,477.06 L474.66,477.06Z" fill="#108080"/>
<path d="M491.34,482.27 L494.16,477.37 L488.52,477.37Z" fill="#108080"/>
<path d="M505.20,483.19 L508.02,478.29 L502.38,478.29Z" fill="#108080"/>
<path d="M519.06,483.81 L521.88,478.91 L516.24,478.91Z" fill="#108080"/>
<path d="M546.78,487.19 L549.60,482.29 L543.96,482.29Z" fill="#108080"/>
<path d="M574.50,496.40 L577.32,491.50 L571.68,491.50Z" fill="#108080"/>
<path d="M629.94,496.40 L632.76,491.50 L627.12,491.50Z" fill="#108080"/>
<polyline points="435.90,493.59 436.82,491.74 437.75,489.90 438.67,488.06 439.60,486.83 440.52,485.91 442.83,484.37 449.76,481.91 456.69,481.30 463.62,481.91 477.48,484.06 491.34,485.91 505.20,486.21 519.06,486.83 546.78,490.51 574.50,493.59 629.94,493.59" fill="none" stroke="#f030f0" stroke-width="0.75"/>
<path d="M433.08,493.59 L437.98,490.77 L437.98,496.40Z" fill="#f010f0"/>
<path d="M434.01,491.74 L438.91,488.92 L438.91,494.56Z" fill="#f010f0"/>
<path d="M434.93,489.90 L439.83,487.08 L439.83,492.72Z" fill="#f010f0"/>
<path d="M435.85,488.06 L440.75,485.24 L440.75,490.87Z" fill="#f010f0"/>
<path d="M436.78,486.83 L441.68,484.01 L441.68,489.64Z" fill="#f010f0"/>
<path d="M437.70,485.91 L442.60,483.09 L442.60,488.72Z" fill="#f010f0"/>
<path d="M440.01,484.37 L444.91,481.55 L444.91,487.19Z" fill="#f010f0"/>
<path d="M446.94,481.91 L451.84,479.09 L451.84,484.73Z" fill="#f010f0"/>
<path d="M453.87,481.30 L458.77,478.48 L458.77,484.12Z" fill="#f010f0"/>
<path d="M460.80,481.91 L465.70,479.09 L465.70,484.73Z" fill="#f010f0"/>
<path d="M474.66,484.06 L479.56,481.24 L479.56,486.88Z" fill="#f010f0"/>
<path d="M488.52,485.91 L493.42,483.09 L493.42,488.72Z" fill="#f010f0"/>
<path d="M502.38,486.21 L507.28,483.40 L507.28,489.03Z" fill="#f010f0"/>
<path d="M516.24,486.83 L521.14,484.01 L521.14,489.64Z" fill="#f010f0"/>
<path d="M543.96,490.51 L548.86,487.70 L548.86,493.33Z" fill="#f010f0"/>
<path d="M571.68,493.59 L576.58,490.77 L576.58,496.40Z" fill="#f010f0"/>
<path d="M627.12,493.59 L632.02,490.77 L632.02,496.40Z" fill="#f010f0"/>
<polyline points="437.01,388.22 438.90,432.76 440.98,448.12 443.29,464.40 449.76,477.61 456.69,481.91 463.62,484.68 477.48,486.83 491.34,487.75 505.20,489.28 519.06,489.90 546.78,491.44 574.50,493.59 629.94,493.59" fill="none" stroke="#8a2020" stroke-width="0.75"/>
<path d="M439.83,388.22 L434.93,385.40 L434.93,391.03Z" fill="#800000"/>
<path d="M441.72,432.76 L436.82,429.94 L436.82,435.58Z" fill="#800000"/>
<path d="M443.80,448.12 L438.90,445.30 L438.90,450.94Z" fill="#800000"/>
<path d="M446.11,464.40 L441.21,461.58 L441.21,467.22Z" fill="#800000"/>
<path d="M452.58,477.61 L447.68,474.79 L447.68,480.43Z" fill="#800000"/>
<path d="M459.51,481.91 L454.61,479.09 L454.61,484.73Z" fill="#800000"/>
<path d="M466.44,484.68 L461.54,481.86 L461.54,487.49Z" fill="#800000"/>
<path d="M480.30,486.83 L475.40,484.01 L475.40,489.64Z" fill="#800000"/>
<path d="M494.16,487.75 L489.26,484.93 L489.26,490.57Z" fill="#800000"/>
<path d="M508.02,489.28 L503.12,486.47 L503.12,492.10Z" fill="#800000"/>
<path d="M521.88,489.90 L516.98,487.08 L516.98,492.72Z" fill="#800000"/>
<path d="M549.60,491.44 L544.70,488.62 L544.70,494.25Z" fill="#800000"/>
<path d="M577.32,493.59 L572.42,490.77 L572.42,496.40Z" fill="#800000"/>
<path d="M632.76,493.59 L627.86,490.77 L627.86,496.40Z" fill="#800000"/>
<line x1="574.50" y1="493.59" x2="629.94" y2="493.59" stroke="#6a2a7a" stroke-width="1.3"/>
<circle cx="574.50" cy="493.59" r="2.5" fill="#a0104a"/>
<circle cx="629.94" cy="493.59" r="2.5" fill="#a0104a"/>
<rect x="614.6" y="370.3" width="43.8" height="72.2" fill="#fff" stroke="#888" stroke-width="0.8"/>
<line x1="615.8" y1="376.9" x2="638.5" y2="376.9" stroke="#333" stroke-width="0.8"/>
<rect x="625.19" y="374.69" width="4.42" height="4.42" fill="#000"/>
<text x="640.70" y="380.20" font-size="9.6" text-anchor="start" font-weight="normal" fill="#000" >DP1</text>
<line x1="615.8" y1="389.3" x2="638.5" y2="389.3" stroke="#f03030" stroke-width="0.8"/>
<circle cx="627.40" cy="389.30" r="2.52" fill="#f01010"/>
<text x="640.70" y="392.60" font-size="9.6" text-anchor="start" font-weight="normal" fill="#000" >DP2</text>
<line x1="615.8" y1="401" x2="638.5" y2="401" stroke="#3a3ae8" stroke-width="0.8"/>
<path d="M627.40,398.24 L630.16,403.04 L624.64,403.04Z" fill="#1010e0"/>
<text x="640.70" y="404.30" font-size="9.6" text-anchor="start" font-weight="normal" fill="#000" >DP3</text>
<line x1="615.8" y1="413.1" x2="638.5" y2="413.1" stroke="#2a9090" stroke-width="0.8"/>
<path d="M627.40,415.86 L630.16,411.06 L624.64,411.06Z" fill="#108080"/>
<text x="640.70" y="416.40" font-size="9.6" text-anchor="start" font-weight="normal" fill="#000" >DP4</text>
<line x1="615.8" y1="425.1" x2="638.5" y2="425.1" stroke="#f030f0" stroke-width="0.8"/>
<path d="M624.64,425.10 L629.44,422.34 L629.44,427.86Z" fill="#f010f0"/>
<text x="640.70" y="428.40" font-size="9.6" text-anchor="start" font-weight="normal" fill="#000" >DP5</text>
<line x1="615.8" y1="437.1" x2="638.5" y2="437.1" stroke="#8a2020" stroke-width="0.8"/>
<path d="M630.16,437.10 L625.36,434.34 L625.36,439.86Z" fill="#800000"/>
<text x="640.70" y="440.40" font-size="9.6" text-anchor="start" font-weight="normal" fill="#000" >DP6</text>
</svg>
</body></html>
